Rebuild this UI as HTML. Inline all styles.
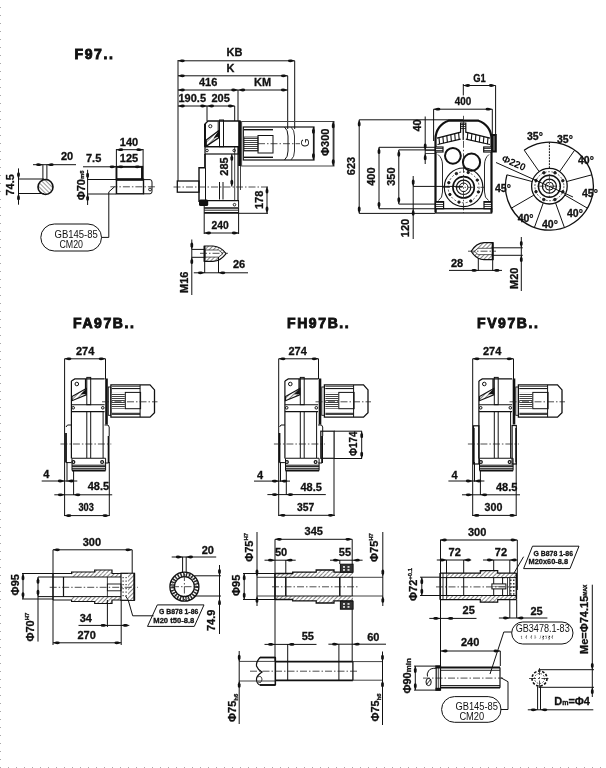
<!DOCTYPE html>
<html><head><meta charset="utf-8"><style>html,body{margin:0;padding:0;background:#fff;width:606px;height:768px;overflow:hidden}svg{display:block;will-change:transform}</style></head>
<body><svg width="606" height="768" viewBox="0 0 606 768">
<defs>
<pattern id="h1" patternUnits="userSpaceOnUse" width="3" height="3" patternTransform="rotate(45)"><rect width="3" height="3" fill="#fff"/><line x1="0" y1="0" x2="0" y2="3" stroke="#222" stroke-width="1.1"/></pattern>
<pattern id="h2" patternUnits="userSpaceOnUse" width="3" height="3" patternTransform="rotate(-45)"><rect width="3" height="3" fill="#fff"/><line x1="0" y1="0" x2="0" y2="3" stroke="#333" stroke-width="1"/></pattern>
<pattern id="fins" patternUnits="userSpaceOnUse" width="4" height="2"><rect width="4" height="2" fill="#fff"/><line x1="0" y1="0.5" x2="4" y2="0.5" stroke="#444" stroke-width="1"/></pattern>
</defs>
<rect width="606" height="768" fill="#fff"/>
<rect x="0" y="7" width="1" height="1" fill="#aaa"/><rect x="0" y="15" width="1" height="1" fill="#aaa"/><rect x="0" y="23" width="1" height="1" fill="#aaa"/><rect x="0" y="31" width="1" height="1" fill="#aaa"/><rect x="0" y="39" width="1" height="1" fill="#aaa"/><rect x="0" y="47" width="1" height="1" fill="#aaa"/><rect x="0" y="55" width="1" height="1" fill="#aaa"/><rect x="0" y="63" width="1" height="1" fill="#aaa"/><rect x="0" y="71" width="1" height="1" fill="#aaa"/><rect x="0" y="79" width="1" height="1" fill="#aaa"/><rect x="0" y="87" width="1" height="1" fill="#aaa"/><rect x="0" y="95" width="1" height="1" fill="#aaa"/><rect x="0" y="103" width="1" height="1" fill="#aaa"/><rect x="0" y="111" width="1" height="1" fill="#aaa"/><rect x="0" y="119" width="1" height="1" fill="#aaa"/><rect x="0" y="127" width="1" height="1" fill="#aaa"/><rect x="0" y="135" width="1" height="1" fill="#aaa"/><rect x="0" y="143" width="1" height="1" fill="#aaa"/><rect x="0" y="151" width="1" height="1" fill="#aaa"/><rect x="0" y="159" width="1" height="1" fill="#aaa"/><rect x="0" y="167" width="1" height="1" fill="#aaa"/><rect x="0" y="175" width="1" height="1" fill="#aaa"/><rect x="0" y="183" width="1" height="1" fill="#aaa"/><rect x="0" y="191" width="1" height="1" fill="#aaa"/><rect x="0" y="199" width="1" height="1" fill="#aaa"/><rect x="0" y="207" width="1" height="1" fill="#aaa"/><rect x="0" y="215" width="1" height="1" fill="#aaa"/><rect x="0" y="223" width="1" height="1" fill="#aaa"/><rect x="0" y="231" width="1" height="1" fill="#aaa"/><rect x="0" y="239" width="1" height="1" fill="#aaa"/><rect x="0" y="247" width="1" height="1" fill="#aaa"/><rect x="0" y="255" width="1" height="1" fill="#aaa"/><rect x="0" y="263" width="1" height="1" fill="#aaa"/><rect x="0" y="271" width="1" height="1" fill="#aaa"/><rect x="0" y="279" width="1" height="1" fill="#aaa"/><rect x="0" y="287" width="1" height="1" fill="#aaa"/><rect x="0" y="295" width="1" height="1" fill="#aaa"/><rect x="0" y="303" width="1" height="1" fill="#aaa"/><rect x="0" y="311" width="1" height="1" fill="#aaa"/><rect x="0" y="319" width="1" height="1" fill="#aaa"/><rect x="0" y="327" width="1" height="1" fill="#aaa"/><rect x="0" y="335" width="1" height="1" fill="#aaa"/><rect x="0" y="343" width="1" height="1" fill="#aaa"/><rect x="0" y="351" width="1" height="1" fill="#aaa"/><rect x="0" y="359" width="1" height="1" fill="#aaa"/><rect x="0" y="367" width="1" height="1" fill="#aaa"/><rect x="0" y="375" width="1" height="1" fill="#aaa"/><rect x="0" y="383" width="1" height="1" fill="#aaa"/><rect x="0" y="391" width="1" height="1" fill="#aaa"/><rect x="0" y="399" width="1" height="1" fill="#aaa"/><rect x="0" y="407" width="1" height="1" fill="#aaa"/><rect x="0" y="415" width="1" height="1" fill="#aaa"/><rect x="0" y="423" width="1" height="1" fill="#aaa"/><rect x="0" y="431" width="1" height="1" fill="#aaa"/><rect x="0" y="439" width="1" height="1" fill="#aaa"/><rect x="0" y="447" width="1" height="1" fill="#aaa"/><rect x="0" y="455" width="1" height="1" fill="#aaa"/><rect x="0" y="463" width="1" height="1" fill="#aaa"/><rect x="0" y="471" width="1" height="1" fill="#aaa"/><rect x="0" y="479" width="1" height="1" fill="#aaa"/><rect x="0" y="487" width="1" height="1" fill="#aaa"/><rect x="0" y="495" width="1" height="1" fill="#aaa"/><rect x="0" y="503" width="1" height="1" fill="#aaa"/><rect x="0" y="511" width="1" height="1" fill="#aaa"/><rect x="0" y="519" width="1" height="1" fill="#aaa"/><rect x="0" y="527" width="1" height="1" fill="#aaa"/><rect x="0" y="535" width="1" height="1" fill="#aaa"/><rect x="0" y="543" width="1" height="1" fill="#aaa"/><rect x="0" y="551" width="1" height="1" fill="#aaa"/><rect x="0" y="559" width="1" height="1" fill="#aaa"/><rect x="0" y="567" width="1" height="1" fill="#aaa"/><rect x="0" y="575" width="1" height="1" fill="#aaa"/><rect x="0" y="583" width="1" height="1" fill="#aaa"/><rect x="0" y="591" width="1" height="1" fill="#aaa"/><rect x="0" y="599" width="1" height="1" fill="#aaa"/><rect x="0" y="607" width="1" height="1" fill="#aaa"/><rect x="0" y="615" width="1" height="1" fill="#aaa"/><rect x="0" y="623" width="1" height="1" fill="#aaa"/><rect x="0" y="631" width="1" height="1" fill="#aaa"/><rect x="0" y="639" width="1" height="1" fill="#aaa"/><rect x="0" y="647" width="1" height="1" fill="#aaa"/><rect x="0" y="655" width="1" height="1" fill="#aaa"/><rect x="0" y="663" width="1" height="1" fill="#aaa"/><rect x="0" y="671" width="1" height="1" fill="#aaa"/><rect x="0" y="679" width="1" height="1" fill="#aaa"/><rect x="0" y="687" width="1" height="1" fill="#aaa"/><rect x="0" y="695" width="1" height="1" fill="#aaa"/><rect x="0" y="703" width="1" height="1" fill="#aaa"/><rect x="0" y="711" width="1" height="1" fill="#aaa"/><rect x="0" y="719" width="1" height="1" fill="#aaa"/><rect x="0" y="727" width="1" height="1" fill="#aaa"/><rect x="0" y="735" width="1" height="1" fill="#aaa"/><rect x="0" y="743" width="1" height="1" fill="#aaa"/><rect x="0" y="751" width="1" height="1" fill="#aaa"/><rect x="0" y="759" width="1" height="1" fill="#aaa"/><rect x="0" y="767" width="1" height="1" fill="#aaa"/><rect x="0" y="767" width="1" height="1" fill="#aaa"/><rect x="8" y="767" width="1" height="1" fill="#aaa"/><rect x="16" y="767" width="1" height="1" fill="#aaa"/><rect x="24" y="767" width="1" height="1" fill="#aaa"/><rect x="32" y="767" width="1" height="1" fill="#aaa"/><rect x="40" y="767" width="1" height="1" fill="#aaa"/><rect x="48" y="767" width="1" height="1" fill="#aaa"/><rect x="56" y="767" width="1" height="1" fill="#aaa"/><rect x="64" y="767" width="1" height="1" fill="#aaa"/><rect x="72" y="767" width="1" height="1" fill="#aaa"/><rect x="80" y="767" width="1" height="1" fill="#aaa"/><rect x="88" y="767" width="1" height="1" fill="#aaa"/><rect x="96" y="767" width="1" height="1" fill="#aaa"/><rect x="104" y="767" width="1" height="1" fill="#aaa"/><rect x="112" y="767" width="1" height="1" fill="#aaa"/><rect x="120" y="767" width="1" height="1" fill="#aaa"/><rect x="128" y="767" width="1" height="1" fill="#aaa"/><rect x="136" y="767" width="1" height="1" fill="#aaa"/><rect x="144" y="767" width="1" height="1" fill="#aaa"/><rect x="152" y="767" width="1" height="1" fill="#aaa"/><rect x="160" y="767" width="1" height="1" fill="#aaa"/><rect x="168" y="767" width="1" height="1" fill="#aaa"/><rect x="176" y="767" width="1" height="1" fill="#aaa"/><rect x="184" y="767" width="1" height="1" fill="#aaa"/><rect x="192" y="767" width="1" height="1" fill="#aaa"/><rect x="200" y="767" width="1" height="1" fill="#aaa"/><rect x="208" y="767" width="1" height="1" fill="#aaa"/><rect x="216" y="767" width="1" height="1" fill="#aaa"/><rect x="224" y="767" width="1" height="1" fill="#aaa"/><rect x="232" y="767" width="1" height="1" fill="#aaa"/><rect x="240" y="767" width="1" height="1" fill="#aaa"/><rect x="248" y="767" width="1" height="1" fill="#aaa"/><rect x="256" y="767" width="1" height="1" fill="#aaa"/><rect x="264" y="767" width="1" height="1" fill="#aaa"/><rect x="272" y="767" width="1" height="1" fill="#aaa"/><rect x="280" y="767" width="1" height="1" fill="#aaa"/><rect x="288" y="767" width="1" height="1" fill="#aaa"/><rect x="296" y="767" width="1" height="1" fill="#aaa"/><rect x="304" y="767" width="1" height="1" fill="#aaa"/><rect x="312" y="767" width="1" height="1" fill="#aaa"/><rect x="320" y="767" width="1" height="1" fill="#aaa"/><rect x="328" y="767" width="1" height="1" fill="#aaa"/><rect x="336" y="767" width="1" height="1" fill="#aaa"/><rect x="344" y="767" width="1" height="1" fill="#aaa"/><rect x="352" y="767" width="1" height="1" fill="#aaa"/><rect x="360" y="767" width="1" height="1" fill="#aaa"/><rect x="368" y="767" width="1" height="1" fill="#aaa"/><rect x="376" y="767" width="1" height="1" fill="#aaa"/><rect x="384" y="767" width="1" height="1" fill="#aaa"/><rect x="392" y="767" width="1" height="1" fill="#aaa"/><rect x="400" y="767" width="1" height="1" fill="#aaa"/><rect x="408" y="767" width="1" height="1" fill="#aaa"/><rect x="416" y="767" width="1" height="1" fill="#aaa"/><rect x="424" y="767" width="1" height="1" fill="#aaa"/><rect x="432" y="767" width="1" height="1" fill="#aaa"/><rect x="440" y="767" width="1" height="1" fill="#aaa"/><rect x="448" y="767" width="1" height="1" fill="#aaa"/><rect x="456" y="767" width="1" height="1" fill="#aaa"/><rect x="464" y="767" width="1" height="1" fill="#aaa"/><rect x="472" y="767" width="1" height="1" fill="#aaa"/><rect x="480" y="767" width="1" height="1" fill="#aaa"/><rect x="488" y="767" width="1" height="1" fill="#aaa"/><rect x="496" y="767" width="1" height="1" fill="#aaa"/><rect x="504" y="767" width="1" height="1" fill="#aaa"/><rect x="512" y="767" width="1" height="1" fill="#aaa"/><rect x="520" y="767" width="1" height="1" fill="#aaa"/><rect x="528" y="767" width="1" height="1" fill="#aaa"/><rect x="536" y="767" width="1" height="1" fill="#aaa"/><rect x="544" y="767" width="1" height="1" fill="#aaa"/><rect x="552" y="767" width="1" height="1" fill="#aaa"/><rect x="560" y="767" width="1" height="1" fill="#aaa"/><rect x="568" y="767" width="1" height="1" fill="#aaa"/><rect x="576" y="767" width="1" height="1" fill="#aaa"/><rect x="584" y="767" width="1" height="1" fill="#aaa"/><rect x="592" y="767" width="1" height="1" fill="#aaa"/><rect x="600" y="767" width="1" height="1" fill="#aaa"/>
<text x="74.5" y="58.6" font-family='"Liberation Sans", sans-serif' font-size="14" font-weight="bold" fill="#111" text-anchor="start" letter-spacing="1.6" stroke="#111" stroke-width="0.9" >F97..</text>
<line x1="33" y1="164.7" x2="76" y2="164.7" stroke="#111" stroke-width="1"/>
<path d="M42.9,164.7 L39.7,163.4 Q36.1,162.9 36.1,164.7 Q36.1,166.5 39.7,166.0 Z" fill="#111" stroke="none"/>
<path d="M46.9,164.7 L50.1,163.4 Q53.7,162.9 53.7,164.7 Q53.7,166.5 50.1,166.0 Z" fill="#111" stroke="none"/>
<line x1="42.9" y1="164.7" x2="42.9" y2="181" stroke="#111" stroke-width="1"/>
<line x1="46.9" y1="164.7" x2="46.9" y2="181" stroke="#111" stroke-width="1"/>
<text x="61" y="160.4" font-family='"Liberation Sans", sans-serif' font-size="11" font-weight="bold" fill="#111" text-anchor="start" stroke="#111" stroke-width="0.3" >20</text>
<circle cx="45.5" cy="187" r="7.5" fill="url(#h2)" stroke="#111" stroke-width="1.6"/>
<line x1="18.5" y1="168.4" x2="18.5" y2="204.7" stroke="#111" stroke-width="1"/>
<path d="M18.5,179 L17.2,175.8 Q16.7,172.2 18.5,172.2 Q20.3,172.2 19.8,175.8 Z" fill="#111" stroke="none"/>
<path d="M18.5,193.5 L17.2,196.7 Q16.7,200.3 18.5,200.3 Q20.3,200.3 19.8,196.7 Z" fill="#111" stroke="none"/>
<line x1="18.5" y1="179" x2="44" y2="179" stroke="#111" stroke-width="1"/>
<line x1="18.5" y1="193.5" x2="44" y2="193.5" stroke="#111" stroke-width="1"/>
<text transform="translate(14,195.5) rotate(-90)" x="0" y="0" font-family='"Liberation Sans", sans-serif' font-size="11" font-weight="bold" fill="#111" stroke="#111" stroke-width="0.3">74.5</text>
<text x="119.8" y="145.9" font-family='"Liberation Sans", sans-serif' font-size="11" font-weight="bold" fill="#111" text-anchor="start" stroke="#111" stroke-width="0.3" >140</text>
<line x1="116.4" y1="149.7" x2="143.1" y2="149.7" stroke="#111" stroke-width="1"/>
<path d="M116.4,149.7 L119.6,148.4 Q123.2,147.9 123.2,149.7 Q123.2,151.5 119.6,151.0 Z" fill="#111" stroke="none"/>
<path d="M143.1,149.7 L139.9,148.4 Q136.3,147.9 136.3,149.7 Q136.3,151.5 139.9,151.0 Z" fill="#111" stroke="none"/>
<text x="119.8" y="162.4" font-family='"Liberation Sans", sans-serif' font-size="11" font-weight="bold" fill="#111" text-anchor="start" stroke="#111" stroke-width="0.3" >125</text>
<text x="86" y="162.4" font-family='"Liberation Sans", sans-serif' font-size="11" font-weight="bold" fill="#111" text-anchor="start" stroke="#111" stroke-width="0.3" >7.5</text>
<line x1="83" y1="166.8" x2="141.6" y2="166.8" stroke="#111" stroke-width="1"/>
<path d="M116.4,166.8 L113.2,165.5 Q109.6,165.0 109.6,166.8 Q109.6,168.6 113.2,168.1 Z" fill="#111" stroke="none"/>
<path d="M116.6,166.8 L119.8,165.5 Q123.4,165.0 123.4,166.8 Q123.4,168.6 119.8,168.1 Z" fill="#111" stroke="none"/>
<path d="M141.6,166.8 L138.4,165.5 Q134.8,165.0 134.8,166.8 Q134.8,168.6 138.4,168.1 Z" fill="#111" stroke="none"/>
<line x1="116.4" y1="149" x2="116.4" y2="194" stroke="#111" stroke-width="1"/>
<line x1="143.1" y1="149" x2="143.1" y2="180" stroke="#111" stroke-width="1"/>
<line x1="141.6" y1="166" x2="141.6" y2="180" stroke="#111" stroke-width="1"/>
<rect x="116.5" y="166.8" width="25.80000000000001" height="12.599999999999994" rx="0" fill="none" stroke="#111" stroke-width="1.8"/>
<rect x="116.5" y="179.4" width="27.0" height="14.400000000000006" rx="0" fill="none" stroke="#111" stroke-width="1.4"/>
<line x1="116.5" y1="179.6" x2="143.5" y2="179.6" stroke="#111" stroke-width="2.2"/>
<path d="M143.5,179.6 L150,179.6 Q152,179.6 152,182 L152,191.5 Q152,193.8 150,193.8 L143.5,193.8" fill="none" stroke="#111" stroke-width="1"/>
<circle cx="150" cy="189.5" r="1.4" fill="none" stroke="#111" stroke-width="0.9"/>
<line x1="110.4" y1="186.8" x2="156.5" y2="186.8" stroke="#222" stroke-width="0.8" stroke-dasharray="7 2 1.5 2"/>
<line x1="87.6" y1="169.8" x2="87.6" y2="205" stroke="#111" stroke-width="1"/>
<path d="M87.6,179.5 L86.3,176.3 Q85.8,172.7 87.6,172.7 Q89.4,172.7 88.9,176.3 Z" fill="#111" stroke="none"/>
<path d="M87.6,194 L86.3,197.2 Q85.8,200.8 87.6,200.8 Q89.4,200.8 88.9,197.2 Z" fill="#111" stroke="none"/>
<line x1="87.6" y1="179.5" x2="116" y2="179.5" stroke="#111" stroke-width="1"/>
<line x1="87.6" y1="194" x2="116" y2="194" stroke="#111" stroke-width="1"/>
<text transform="translate(84.7,200.3) rotate(-90)" x="0" y="0" font-family='"Liberation Sans", sans-serif' font-size="11" font-weight="bold" fill="#111" stroke="#111" stroke-width="0.3">Φ70<tspan font-size="6" dy="-0.5">m6</tspan></text>
<polyline points="114.6,186.7 108.8,191.9 108.8,237.4 101.5,237.4" fill="none" stroke="#111" stroke-width="1"/>
<rect x="40.8" y="224" width="60.7" height="27" rx="13.5" fill="none" stroke="#111" stroke-width="1"/>
<text x="54.5" y="237.5" font-family='"Liberation Sans", sans-serif' font-size="10.5" font-weight="normal" fill="#111" text-anchor="start" textLength="43.3" lengthAdjust="spacingAndGlyphs" >GB145-85</text>
<text x="59.4" y="247.5" font-family='"Liberation Sans", sans-serif' font-size="10.5" font-weight="normal" fill="#111" text-anchor="start" textLength="23.6" lengthAdjust="spacingAndGlyphs" >CM20</text>
<text x="226.6" y="55.9" font-family='"Liberation Sans", sans-serif' font-size="11" font-weight="bold" fill="#111" text-anchor="start" stroke="#111" stroke-width="0.3" >KB</text>
<line x1="178" y1="60.8" x2="294.7" y2="60.8" stroke="#111" stroke-width="1"/>
<path d="M178,60.8 L181.2,59.5 Q184.8,59.0 184.8,60.8 Q184.8,62.6 181.2,62.1 Z" fill="#111" stroke="none"/>
<path d="M294.7,60.8 L291.5,59.5 Q287.9,59.0 287.9,60.8 Q287.9,62.6 291.5,62.1 Z" fill="#111" stroke="none"/>
<text x="226.6" y="71.9" font-family='"Liberation Sans", sans-serif' font-size="11" font-weight="bold" fill="#111" text-anchor="start" stroke="#111" stroke-width="0.3" >K</text>
<line x1="178" y1="75.8" x2="287.7" y2="75.8" stroke="#111" stroke-width="1"/>
<path d="M178,75.8 L181.2,74.5 Q184.8,74.0 184.8,75.8 Q184.8,77.6 181.2,77.1 Z" fill="#111" stroke="none"/>
<path d="M287.7,75.8 L284.5,74.5 Q280.9,74.0 280.9,75.8 Q280.9,77.6 284.5,77.1 Z" fill="#111" stroke="none"/>
<text x="199" y="85.9" font-family='"Liberation Sans", sans-serif' font-size="11" font-weight="bold" fill="#111" text-anchor="start" stroke="#111" stroke-width="0.3" >416</text>
<text x="254" y="85.9" font-family='"Liberation Sans", sans-serif' font-size="11" font-weight="bold" fill="#111" text-anchor="start" stroke="#111" stroke-width="0.3" >KM</text>
<line x1="178" y1="90" x2="287.7" y2="90" stroke="#111" stroke-width="1"/>
<path d="M178,90 L181.2,88.7 Q184.8,88.2 184.8,90 Q184.8,91.8 181.2,91.3 Z" fill="#111" stroke="none"/>
<path d="M238,90 L234.8,88.7 Q231.2,88.2 231.2,90 Q231.2,91.8 234.8,91.3 Z" fill="#111" stroke="none"/>
<path d="M238.4,90 L241.6,88.7 Q245.2,88.2 245.2,90 Q245.2,91.8 241.6,91.3 Z" fill="#111" stroke="none"/>
<path d="M287.7,90 L284.5,88.7 Q280.9,88.2 280.9,90 Q280.9,91.8 284.5,91.3 Z" fill="#111" stroke="none"/>
<text x="178.5" y="101.9" font-family='"Liberation Sans", sans-serif' font-size="11" font-weight="bold" fill="#111" text-anchor="start" stroke="#111" stroke-width="0.3" >190.5</text>
<text x="211.5" y="101.9" font-family='"Liberation Sans", sans-serif' font-size="11" font-weight="bold" fill="#111" text-anchor="start" stroke="#111" stroke-width="0.3" >205</text>
<line x1="178" y1="106" x2="234.7" y2="106" stroke="#111" stroke-width="1"/>
<path d="M178,106 L181.2,104.7 Q184.8,104.2 184.8,106 Q184.8,107.8 181.2,107.3 Z" fill="#111" stroke="none"/>
<path d="M207,106 L203.8,104.7 Q200.2,104.2 200.2,106 Q200.2,107.8 203.8,107.3 Z" fill="#111" stroke="none"/>
<path d="M207.2,106 L210.4,104.7 Q214.0,104.2 214.0,106 Q214.0,107.8 210.4,107.3 Z" fill="#111" stroke="none"/>
<path d="M234.7,106 L231.5,104.7 Q227.9,104.2 227.9,106 Q227.9,107.8 231.5,107.3 Z" fill="#111" stroke="none"/>
<line x1="178" y1="60" x2="178" y2="181" stroke="#111" stroke-width="1"/>
<line x1="207" y1="106" x2="207" y2="121" stroke="#111" stroke-width="1"/>
<line x1="234.7" y1="106" x2="234.7" y2="121" stroke="#111" stroke-width="1"/>
<line x1="238" y1="90" x2="238" y2="121" stroke="#111" stroke-width="1"/>
<line x1="287.7" y1="75.8" x2="287.7" y2="129" stroke="#111" stroke-width="1"/>
<line x1="294.7" y1="60.8" x2="294.7" y2="129" stroke="#111" stroke-width="1"/>
<path d="M205,124 L208,121 L240,121 L240,146.7 L205,146.7 Z" fill="none" stroke="#111" stroke-width="1.3"/>
<rect x="219.5" y="120" width="4.0" height="26.69999999999999" rx="0" fill="none" stroke="#111" stroke-width="1"/>
<circle cx="210.3" cy="126.2" r="1.6" fill="none" stroke="#111" stroke-width="0.9"/>
<polygon points="218.6,130.8 218.6,137.8 206.2,146.2 206.2,140" fill="url(#h1)" stroke="#111" stroke-width="1.3"/>
<polygon points="218.6,130.8 218.6,136.5 213.5,138.2" fill="#111"/>
<line x1="218.2" y1="121.5" x2="218.2" y2="131" stroke="#111" stroke-width="1"/>
<line x1="205" y1="124" x2="205" y2="146.7" stroke="#111" stroke-width="2"/>
<rect x="205" y="146.7" width="33.5" height="7.300000000000011" rx="0" fill="none" stroke="#111" stroke-width="1.2"/>
<circle cx="207" cy="150.5" r="1.3" fill="none" stroke="#111" stroke-width="0.9"/>
<circle cx="234.2" cy="150.5" r="1.3" fill="none" stroke="#111" stroke-width="0.9"/>
<path d="M205,154 L205,167.8 L199,167.8 L199,202" fill="none" stroke="#111" stroke-width="1.4"/>
<line x1="205" y1="154" x2="205" y2="167.8" stroke="#111" stroke-width="1.2"/>
<line x1="205.5" y1="167.8" x2="205.5" y2="200.8" stroke="#111" stroke-width="1"/>
<line x1="219.5" y1="182" x2="219.5" y2="199.5" stroke="#111" stroke-width="1"/>
<line x1="223" y1="182" x2="223" y2="199.5" stroke="#111" stroke-width="1"/>
<line x1="234.7" y1="146.7" x2="234.7" y2="200.8" stroke="#111" stroke-width="0.8"/>
<line x1="238" y1="146.7" x2="238" y2="200.8" stroke="#111" stroke-width="1.2"/>
<rect x="238.2" y="121" width="2.8" height="45" fill="#111"/>
<line x1="240.5" y1="166" x2="240.5" y2="190" stroke="#111" stroke-width="0.8"/>
<line x1="199" y1="200.7" x2="239" y2="200.7" stroke="#111" stroke-width="1.2"/>
<line x1="238.6" y1="200.7" x2="238.6" y2="207.5" stroke="#111" stroke-width="1"/>
<line x1="204.2" y1="208" x2="238.6" y2="208" stroke="#111" stroke-width="1.3"/>
<line x1="204.2" y1="210.2" x2="238.6" y2="210.2" stroke="#111" stroke-width="0.9"/>
<line x1="204.2" y1="212.8" x2="238.6" y2="212.8" stroke="#111" stroke-width="1.8"/>
<line x1="204.2" y1="206" x2="204.2" y2="213" stroke="#111" stroke-width="1"/>
<line x1="238.6" y1="207.5" x2="238.6" y2="213" stroke="#111" stroke-width="1"/>
<rect x="199" y="199.4" width="9.2" height="6.6" rx="1.5" fill="#111"/>
<circle cx="234.5" cy="204.7" r="1.3" fill="none" stroke="#111" stroke-width="0.9"/>
<rect x="177.3" y="181" width="21.69999999999999" height="11.199999999999989" rx="0" fill="none" stroke="#111" stroke-width="1.3"/>
<line x1="173.5" y1="187" x2="269" y2="187" stroke="#222" stroke-width="0.8" stroke-dasharray="7 2 1.5 2"/>
<line x1="231.8" y1="154" x2="231.8" y2="186.5" stroke="#111" stroke-width="1"/>
<path d="M231.8,154 L230.5,157.2 Q230.0,160.8 231.8,160.8 Q233.6,160.8 233.1,157.2 Z" fill="#111" stroke="none"/>
<path d="M231.8,186.5 L230.5,183.3 Q230.0,179.7 231.8,179.7 Q233.6,179.7 233.1,183.3 Z" fill="#111" stroke="none"/>
<text transform="translate(228,175.7) rotate(-90)" x="0" y="0" font-family='"Liberation Sans", sans-serif' font-size="11" font-weight="bold" fill="#111" stroke="#111" stroke-width="0.3">285</text>
<line x1="267" y1="186.8" x2="267" y2="213.3" stroke="#111" stroke-width="1"/>
<path d="M267,186.8 L265.7,190.0 Q265.2,193.6 267,193.6 Q268.8,193.6 268.3,190.0 Z" fill="#111" stroke="none"/>
<path d="M267,213.3 L265.7,210.1 Q265.2,206.5 267,206.5 Q268.8,206.5 268.3,210.1 Z" fill="#111" stroke="none"/>
<line x1="238.6" y1="213.3" x2="268" y2="213.3" stroke="#111" stroke-width="1"/>
<text transform="translate(263,209) rotate(-90)" x="0" y="0" font-family='"Liberation Sans", sans-serif' font-size="11" font-weight="bold" fill="#111" stroke="#111" stroke-width="0.3">178</text>
<line x1="204.2" y1="213" x2="204.2" y2="234" stroke="#111" stroke-width="1"/>
<line x1="238.6" y1="213" x2="238.6" y2="234" stroke="#111" stroke-width="1"/>
<line x1="204.2" y1="233" x2="238.6" y2="233" stroke="#111" stroke-width="1"/>
<path d="M204.2,233 L207.4,231.7 Q211.0,231.2 211.0,233 Q211.0,234.8 207.4,234.3 Z" fill="#111" stroke="none"/>
<path d="M238.6,233 L235.4,231.7 Q231.8,231.2 231.8,233 Q231.8,234.8 235.4,234.3 Z" fill="#111" stroke="none"/>
<text x="211.5" y="229.1" font-family='"Liberation Sans", sans-serif' font-size="11" font-weight="bold" fill="#111" text-anchor="start" textLength="17.2" lengthAdjust="spacingAndGlyphs" stroke="#111" stroke-width="0.3" >240</text>
<rect x="241.6" y="121.5" width="92.4" height="44.5" rx="0" fill="none" stroke="#444" stroke-width="1"/>
<rect x="243.3" y="127" width="70.69999999999999" height="33" rx="0" fill="none" stroke="#111" stroke-width="1.2"/>
<line x1="244" y1="129.7" x2="273" y2="129.7" stroke="#111" stroke-width="1.4"/>
<line x1="244" y1="157.3" x2="273" y2="157.3" stroke="#111" stroke-width="1.4"/>
<rect x="244" y="137" width="14" height="14" fill="url(#fins)" stroke="#222" stroke-width="0.8"/>
<rect x="258" y="135.5" width="15" height="17.5" rx="0" fill="none" stroke="#111" stroke-width="1"/>
<path d="M284.5,127 Q288,130 288,136 L288,151 Q288,157 284.5,160" fill="none" stroke="#111" stroke-width="1"/>
<path d="M291,127 Q294.5,130 294.5,136 L294.5,151 Q294.5,157 291,160" fill="none" stroke="#333" stroke-width="1"/>
<line x1="258" y1="143.7" x2="300" y2="143.7" stroke="#222" stroke-width="0.8" stroke-dasharray="7 2 1.5 2"/>
<line x1="313.4" y1="127" x2="313.4" y2="160" stroke="#111" stroke-width="1"/>
<path d="M313.4,127 L312.1,130.2 Q311.6,133.8 313.4,133.8 Q315.2,133.8 314.7,130.2 Z" fill="#111" stroke="none"/>
<path d="M313.4,160 L312.1,156.8 Q311.6,153.2 313.4,153.2 Q315.2,153.2 314.7,156.8 Z" fill="#111" stroke="none"/>
<text transform="translate(309.3,147) rotate(-90)" x="0" y="0" font-family='"Liberation Sans", sans-serif' font-size="11" font-weight="normal" fill="#111">G</text>
<line x1="333.2" y1="121.5" x2="333.2" y2="166" stroke="#111" stroke-width="1"/>
<path d="M333.2,121.5 L331.9,124.7 Q331.4,128.3 333.2,128.3 Q335.0,128.3 334.5,124.7 Z" fill="#111" stroke="none"/>
<path d="M333.2,166 L331.9,162.8 Q331.4,159.2 333.2,159.2 Q335.0,159.2 334.5,162.8 Z" fill="#111" stroke="none"/>
<text transform="translate(329,156) rotate(-90)" x="0" y="0" font-family='"Liberation Sans", sans-serif' font-size="11" font-weight="bold" fill="#111" stroke="#111" stroke-width="0.3">Φ300</text>
<path d="M204.3,246 L213,246 Q221,246.5 226,253.6 Q221,260.8 213,261.4 L204.3,261.4 Z" fill="url(#h1)" stroke="#111" stroke-width="1.2"/>
<path d="M205,250 L218.5,250 L223,253.6 L218.5,257.1 L205,257.1 Z" fill="#fff" stroke="#333" stroke-width="0.8"/>
<line x1="204.6" y1="246" x2="204.6" y2="261.4" stroke="#111" stroke-width="1.8"/>
<line x1="200" y1="253.3" x2="228" y2="253.3" stroke="#222" stroke-width="0.8" stroke-dasharray="7 2 1.5 2"/>
<line x1="191.8" y1="239.5" x2="191.8" y2="295" stroke="#111" stroke-width="1"/>
<path d="M191.8,249.4 L190.5,246.2 Q190.0,242.6 191.8,242.6 Q193.6,242.6 193.1,246.2 Z" fill="#111" stroke="none"/>
<path d="M191.8,257.3 L190.5,260.5 Q190.0,264.1 191.8,264.1 Q193.6,264.1 193.1,260.5 Z" fill="#111" stroke="none"/>
<line x1="191.8" y1="249.4" x2="205" y2="249.4" stroke="#111" stroke-width="1"/>
<line x1="191.8" y1="257.3" x2="205" y2="257.3" stroke="#111" stroke-width="1"/>
<text transform="translate(188,293) rotate(-90)" x="0" y="0" font-family='"Liberation Sans", sans-serif' font-size="11" font-weight="bold" fill="#111" stroke="#111" stroke-width="0.3">M16</text>
<line x1="193.8" y1="272.8" x2="248" y2="272.8" stroke="#111" stroke-width="1"/>
<path d="M204.7,272.8 L201.5,271.5 Q197.9,271.0 197.9,272.8 Q197.9,274.6 201.5,274.1 Z" fill="#111" stroke="none"/>
<path d="M218.5,272.8 L221.7,271.5 Q225.3,271.0 225.3,272.8 Q225.3,274.6 221.7,274.1 Z" fill="#111" stroke="none"/>
<line x1="204.7" y1="261" x2="204.7" y2="273" stroke="#111" stroke-width="1"/>
<line x1="218.5" y1="257" x2="218.5" y2="273" stroke="#111" stroke-width="1"/>
<text x="233" y="267.9" font-family='"Liberation Sans", sans-serif' font-size="11" font-weight="bold" fill="#111" text-anchor="start" stroke="#111" stroke-width="0.3" >26</text>
<text x="473.2" y="82.1" font-family='"Liberation Sans", sans-serif' font-size="11" font-weight="bold" fill="#111" text-anchor="start" textLength="12.5" lengthAdjust="spacingAndGlyphs" stroke="#111" stroke-width="0.3" >G1</text>
<line x1="463.3" y1="85.5" x2="495.6" y2="85.5" stroke="#111" stroke-width="1"/>
<path d="M463.3,85.5 L466.5,84.2 Q470.1,83.7 470.1,85.5 Q470.1,87.3 466.5,86.8 Z" fill="#111" stroke="none"/>
<path d="M495.6,85.5 L492.4,84.2 Q488.8,83.7 488.8,85.5 Q488.8,87.3 492.4,86.8 Z" fill="#111" stroke="none"/>
<text x="454.7" y="105.2" font-family='"Liberation Sans", sans-serif' font-size="11" font-weight="bold" fill="#111" text-anchor="start" textLength="16.5" lengthAdjust="spacingAndGlyphs" stroke="#111" stroke-width="0.3" >400</text>
<line x1="433.6" y1="109.2" x2="492.3" y2="109.2" stroke="#111" stroke-width="1"/>
<path d="M433.6,109.2 L436.8,107.9 Q440.4,107.4 440.4,109.2 Q440.4,111.0 436.8,110.5 Z" fill="#111" stroke="none"/>
<path d="M492.3,109.2 L489.1,107.9 Q485.5,107.4 485.5,109.2 Q485.5,111.0 489.1,110.5 Z" fill="#111" stroke="none"/>
<line x1="433.6" y1="109.2" x2="433.6" y2="141" stroke="#111" stroke-width="1"/>
<line x1="495.6" y1="85.5" x2="495.6" y2="135" stroke="#111" stroke-width="1"/>
<line x1="492.3" y1="109.2" x2="492.3" y2="135" stroke="#111" stroke-width="1"/>
<line x1="463.3" y1="84" x2="463.3" y2="95.4" stroke="#111" stroke-width="1"/>
<line x1="359.2" y1="119.8" x2="359.2" y2="213.4" stroke="#111" stroke-width="1"/>
<path d="M359.2,119.8 L357.9,123.0 Q357.4,126.6 359.2,126.6 Q361.0,126.6 360.5,123.0 Z" fill="#111" stroke="none"/>
<path d="M359.2,213.4 L357.9,210.2 Q357.4,206.6 359.2,206.6 Q361.0,206.6 360.5,210.2 Z" fill="#111" stroke="none"/>
<line x1="359.2" y1="119.8" x2="463" y2="119.8" stroke="#111" stroke-width="1"/>
<line x1="359.2" y1="213.4" x2="435" y2="213.4" stroke="#111" stroke-width="1"/>
<text transform="translate(355.2,175.2) rotate(-90)" x="0" y="0" font-family='"Liberation Sans", sans-serif' font-size="11" font-weight="bold" fill="#111" stroke="#111" stroke-width="0.3">623</text>
<line x1="379" y1="147.3" x2="379" y2="208.75" stroke="#111" stroke-width="1"/>
<path d="M379,147.3 L377.7,150.5 Q377.2,154.1 379,154.1 Q380.8,154.1 380.3,150.5 Z" fill="#111" stroke="none"/>
<path d="M379,208.75 L377.7,205.6 Q377.2,201.9 379,201.9 Q380.8,201.9 380.3,205.6 Z" fill="#111" stroke="none"/>
<line x1="379" y1="147.3" x2="435" y2="147.3" stroke="#111" stroke-width="1"/>
<line x1="379" y1="208.75" x2="435" y2="208.75" stroke="#111" stroke-width="1"/>
<text transform="translate(375,185.8) rotate(-90)" x="0" y="0" font-family='"Liberation Sans", sans-serif' font-size="11" font-weight="bold" fill="#111" stroke="#111" stroke-width="0.3">400</text>
<line x1="398.8" y1="149.9" x2="398.8" y2="204.1" stroke="#111" stroke-width="1"/>
<path d="M398.8,149.9 L397.5,153.1 Q397.0,156.7 398.8,156.7 Q400.6,156.7 400.1,153.1 Z" fill="#111" stroke="none"/>
<path d="M398.8,204.1 L397.5,200.9 Q397.0,197.3 398.8,197.3 Q400.6,197.3 400.1,200.9 Z" fill="#111" stroke="none"/>
<line x1="398.8" y1="149.9" x2="435" y2="149.9" stroke="#111" stroke-width="1"/>
<line x1="398.8" y1="204.1" x2="435" y2="204.1" stroke="#111" stroke-width="1"/>
<text transform="translate(394.8,185.8) rotate(-90)" x="0" y="0" font-family='"Liberation Sans", sans-serif' font-size="11" font-weight="bold" fill="#111" stroke="#111" stroke-width="0.3">350</text>
<line x1="425.2" y1="116.5" x2="425.2" y2="164" stroke="#111" stroke-width="1"/>
<path d="M425.2,150.4 L423.9,147.2 Q423.4,143.6 425.2,143.6 Q427.0,143.6 426.5,147.2 Z" fill="#111" stroke="none"/>
<path d="M425.2,153.5 L423.9,156.7 Q423.4,160.3 425.2,160.3 Q427.0,160.3 426.5,156.7 Z" fill="#111" stroke="none"/>
<line x1="425.2" y1="150.4" x2="435" y2="150.4" stroke="#111" stroke-width="0.8"/>
<line x1="425.2" y1="153.5" x2="435" y2="153.5" stroke="#111" stroke-width="0.8"/>
<text transform="translate(421.3,131.5) rotate(-90)" x="0" y="0" font-family='"Liberation Sans", sans-serif' font-size="11" font-weight="bold" fill="#111" stroke="#111" stroke-width="0.3">40</text>
<line x1="413.2" y1="176" x2="413.2" y2="239" stroke="#111" stroke-width="1"/>
<path d="M413.2,186.4 L411.9,183.2 Q411.4,179.6 413.2,179.6 Q415.0,179.6 414.5,183.2 Z" fill="#111" stroke="none"/>
<path d="M413.2,208.75 L411.9,211.9 Q411.4,215.6 413.2,215.6 Q415.0,215.6 414.5,211.9 Z" fill="#111" stroke="none"/>
<line x1="413.2" y1="186.4" x2="463" y2="186.4" stroke="#111" stroke-width="1"/>
<text transform="translate(409.3,237.2) rotate(-90)" x="0" y="0" font-family='"Liberation Sans", sans-serif' font-size="11" font-weight="bold" fill="#111" stroke="#111" stroke-width="0.3">120</text>
<path d="M435.5,212.5 L435.5,139 C435.5,130 441,123 448.5,120.7 L478.5,120.7 C486,123 491.5,130 491.5,139 L491.5,212.5" fill="none" stroke="#111" stroke-width="2.2"/>
<polyline points="437,138.2 460.6,132.2 460.6,123 465.8,123 465.8,132.2 490,138.2" fill="none" stroke="#111" stroke-width="1.2"/>
<polyline points="437.5,144.5 460.6,139.2" fill="none" stroke="#111" stroke-width="1.2"/>
<polyline points="465.8,139.2 490,144.5" fill="none" stroke="#111" stroke-width="1.2"/>
<line x1="439.0" y1="137.7" x2="439.6" y2="144.1" stroke="#111" stroke-width="1.1"/>
<line x1="488.0" y1="137.7" x2="487.4" y2="144.1" stroke="#111" stroke-width="1.1"/>
<line x1="442.9" y1="136.7" x2="443.5" y2="143.2" stroke="#111" stroke-width="1.1"/>
<line x1="483.9" y1="136.7" x2="483.3" y2="143.2" stroke="#111" stroke-width="1.1"/>
<line x1="446.8" y1="135.7" x2="447.4" y2="142.3" stroke="#111" stroke-width="1.1"/>
<line x1="479.9" y1="135.7" x2="479.3" y2="142.3" stroke="#111" stroke-width="1.1"/>
<line x1="450.8" y1="134.7" x2="451.4" y2="141.4" stroke="#111" stroke-width="1.1"/>
<line x1="475.9" y1="134.7" x2="475.3" y2="141.4" stroke="#111" stroke-width="1.1"/>
<line x1="454.7" y1="133.7" x2="455.3" y2="140.5" stroke="#111" stroke-width="1.1"/>
<line x1="471.9" y1="133.7" x2="471.2" y2="140.5" stroke="#111" stroke-width="1.1"/>
<line x1="458.6" y1="132.7" x2="459.2" y2="139.6" stroke="#111" stroke-width="1.1"/>
<line x1="467.8" y1="132.7" x2="467.2" y2="139.6" stroke="#111" stroke-width="1.1"/>
<line x1="460.6" y1="124.5" x2="465.8" y2="124.5" stroke="#111" stroke-width="0.8"/>
<line x1="460.6" y1="126.5" x2="465.8" y2="126.5" stroke="#111" stroke-width="0.8"/>
<line x1="460.6" y1="128.5" x2="465.8" y2="128.5" stroke="#111" stroke-width="0.8"/>
<line x1="463.2" y1="123" x2="463.2" y2="140" stroke="#111" stroke-width="1.2"/>
<rect x="435.5" y="147" width="7.5" height="5" rx="0" fill="url(#fins)" stroke="#111" stroke-width="1.2"/>
<rect x="483.7" y="147" width="7.800000000000011" height="5" rx="0" fill="url(#fins)" stroke="#111" stroke-width="1.2"/>
<rect x="492.2" y="135" width="3.6000000000000227" height="16.5" rx="0" fill="#666" stroke="#111" stroke-width="2"/>
<circle cx="452.9" cy="155.8" r="7.9" fill="none" stroke="#111" stroke-width="2"/>
<circle cx="471.5" cy="162.2" r="8.6" fill="none" stroke="#111" stroke-width="2"/>
<circle cx="463.6" cy="187.3" r="19.3" fill="none" stroke="#111" stroke-width="1.2"/>
<circle cx="463.6" cy="187.3" r="15.5" fill="none" stroke="#111" stroke-width="0.7" stroke-dasharray="2 2"/>
<circle cx="463.6" cy="187.3" r="10.7" fill="none" stroke="#111" stroke-width="1.6"/>
<circle cx="463.6" cy="187.3" r="7.2" fill="none" stroke="#111" stroke-width="1.2"/>
<circle cx="463.6" cy="187.3" r="4.3" fill="none" stroke="#111" stroke-width="1"/>
<circle cx="478.4" cy="191.9" r="1.2" fill="#222" stroke="#111" stroke-width="0.9"/>
<circle cx="470.8" cy="201.0" r="1.2" fill="#222" stroke="#111" stroke-width="0.9"/>
<circle cx="459.0" cy="202.1" r="1.2" fill="#222" stroke="#111" stroke-width="0.9"/>
<circle cx="449.9" cy="194.5" r="1.2" fill="#222" stroke="#111" stroke-width="0.9"/>
<circle cx="448.8" cy="182.7" r="1.2" fill="#222" stroke="#111" stroke-width="0.9"/>
<circle cx="456.4" cy="173.6" r="1.2" fill="#222" stroke="#111" stroke-width="0.9"/>
<circle cx="468.2" cy="172.5" r="1.2" fill="#222" stroke="#111" stroke-width="0.9"/>
<circle cx="477.3" cy="180.1" r="1.2" fill="#222" stroke="#111" stroke-width="0.9"/>
<line x1="443" y1="187.3" x2="484" y2="187.3" stroke="#222" stroke-width="0.8" stroke-dasharray="7 2 1.5 2"/>
<line x1="463.5" y1="115.8" x2="463.5" y2="213" stroke="#222" stroke-width="0.8" stroke-dasharray="7 2 1.5 2"/>
<path d="M438,154.5 Q442.5,158 442.5,165 L442.5,192 Q442.5,198 438.5,200.5" fill="none" stroke="#111" stroke-width="0.9"/>
<path d="M489,154.5 Q484.5,158 484.5,165 L484.5,192 Q484.5,198 488.5,200.5" fill="none" stroke="#111" stroke-width="0.9"/>
<rect x="435.7" y="208.7" width="55.900000000000034" height="4.300000000000011" rx="0" fill="none" stroke="#111" stroke-width="1.3"/>
<rect x="435.5" y="201.6" width="8.100000000000023" height="7.099999999999994" rx="0" fill="url(#fins)" stroke="#111" stroke-width="1.2"/>
<rect x="484" y="201.6" width="7.5" height="7.099999999999994" rx="0" fill="url(#fins)" stroke="#111" stroke-width="1.2"/>
<path d="M493,242.6 L484,242.6 Q476,243.2 471.2,251.2 Q476,259.2 484,259.7 L493,259.7 Z" fill="url(#h1)" stroke="#111" stroke-width="1.2"/>
<path d="M492.5,248.3 L478,248.3 L474.5,251.2 L478,254.6 L492.5,254.6 Z" fill="#fff" stroke="#333" stroke-width="0.8"/>
<line x1="468" y1="251.2" x2="496" y2="251.2" stroke="#222" stroke-width="0.8" stroke-dasharray="7 2 1.5 2"/>
<line x1="492.6" y1="242.6" x2="492.6" y2="259.7" stroke="#111" stroke-width="1.8"/>
<line x1="492.8" y1="247.8" x2="522.8" y2="247.8" stroke="#111" stroke-width="1"/>
<line x1="492.8" y1="255.3" x2="522.8" y2="255.3" stroke="#111" stroke-width="1"/>
<line x1="521.3" y1="237" x2="521.3" y2="291" stroke="#111" stroke-width="1"/>
<path d="M521.3,247.8 L520.0,244.6 Q519.5,241.0 521.3,241.0 Q523.1,241.0 522.6,244.6 Z" fill="#111" stroke="none"/>
<path d="M521.3,255.3 L520.0,258.5 Q519.5,262.1 521.3,262.1 Q523.1,262.1 522.6,258.5 Z" fill="#111" stroke="none"/>
<text transform="translate(518,289) rotate(-90)" x="0" y="0" font-family='"Liberation Sans", sans-serif' font-size="11" font-weight="bold" fill="#111" stroke="#111" stroke-width="0.3">M20</text>
<line x1="449" y1="270.4" x2="502" y2="270.4" stroke="#111" stroke-width="1"/>
<path d="M478.3,270.4 L475.1,269.1 Q471.5,268.6 471.5,270.4 Q471.5,272.2 475.1,271.7 Z" fill="#111" stroke="none"/>
<path d="M492.7,270.4 L495.9,269.1 Q499.5,268.6 499.5,270.4 Q499.5,272.2 495.9,271.7 Z" fill="#111" stroke="none"/>
<line x1="478.3" y1="258" x2="478.3" y2="271" stroke="#111" stroke-width="1"/>
<line x1="492.7" y1="259" x2="492.7" y2="271" stroke="#111" stroke-width="1"/>
<text x="451" y="266.9" font-family='"Liberation Sans", sans-serif' font-size="11" font-weight="bold" fill="#111" text-anchor="start" stroke="#111" stroke-width="0.3" >28</text>
<path d="M524.16,150.16 A44 44 0 1 1 506.9,174.8" fill="none" stroke="#111" stroke-width="1.3"/>
<circle cx="549.4" cy="186.2" r="17.8" fill="none" stroke="#111" stroke-width="1.3"/>
<circle cx="549.4" cy="186.2" r="14.5" fill="none" stroke="#111" stroke-width="0.7" stroke-dasharray="2 1.5"/>
<circle cx="549.4" cy="186.2" r="11" fill="none" stroke="#111" stroke-width="1.4"/>
<circle cx="549.4" cy="186.2" r="7" fill="none" stroke="#111" stroke-width="1.3"/>
<circle cx="549.4" cy="186.2" r="4" fill="none" stroke="#111" stroke-width="1"/>
<line x1="537.4" y1="186.2" x2="561.4" y2="186.2" stroke="#222" stroke-width="0.8" stroke-dasharray="7 2 1.5 2"/>
<line x1="549.4" y1="174.2" x2="549.4" y2="198.2" stroke="#222" stroke-width="0.8" stroke-dasharray="7 2 1.5 2"/>
<circle cx="562.8" cy="191.8" r="1.3" fill="#222" stroke="#111" stroke-width="0.8"/>
<circle cx="554.9" cy="199.6" r="1.3" fill="#222" stroke="#111" stroke-width="0.8"/>
<circle cx="543.8" cy="199.6" r="1.3" fill="#222" stroke="#111" stroke-width="0.8"/>
<circle cx="536.0" cy="191.7" r="1.3" fill="#222" stroke="#111" stroke-width="0.8"/>
<circle cx="536.0" cy="180.6" r="1.3" fill="#222" stroke="#111" stroke-width="0.8"/>
<circle cx="543.9" cy="172.8" r="1.3" fill="#222" stroke="#111" stroke-width="0.8"/>
<circle cx="555.0" cy="172.8" r="1.3" fill="#222" stroke="#111" stroke-width="0.8"/>
<circle cx="562.8" cy="180.7" r="1.3" fill="#222" stroke="#111" stroke-width="0.8"/>
<line x1="559.7" y1="171.5" x2="574.6" y2="150.2" stroke="#111" stroke-width="1"/>
<line x1="566.8" y1="181.5" x2="591.9" y2="174.8" stroke="#111" stroke-width="1"/>
<line x1="565.0" y1="195.2" x2="587.5" y2="208.2" stroke="#111" stroke-width="1"/>
<line x1="555.6" y1="203.1" x2="564.4" y2="227.5" stroke="#111" stroke-width="1"/>
<line x1="543.2" y1="203.1" x2="534.4" y2="227.5" stroke="#111" stroke-width="1"/>
<line x1="533.8" y1="195.2" x2="511.3" y2="208.2" stroke="#111" stroke-width="1"/>
<line x1="532.0" y1="181.5" x2="506.9" y2="174.8" stroke="#111" stroke-width="1"/>
<line x1="539.1" y1="171.5" x2="524.2" y2="150.2" stroke="#111" stroke-width="1"/>
<line x1="549.4" y1="168.2" x2="549.4" y2="142.2" stroke="#111" stroke-width="1" stroke-dasharray="2 1"/>
<line x1="496" y1="162.5" x2="573" y2="197" stroke="#111" stroke-width="1"/>
<text transform="translate(501,161) rotate(24)" font-family='"Liberation Sans", sans-serif' font-size="10" font-weight="bold" fill="#111">Φ220</text>
<text x="527" y="140.0" font-family='"Liberation Sans", sans-serif' font-size="10.5" font-weight="bold" fill="#111" text-anchor="start" stroke="#111" stroke-width="0.3" >35°</text>
<text x="557" y="143.0" font-family='"Liberation Sans", sans-serif' font-size="10.5" font-weight="bold" fill="#111" text-anchor="start" stroke="#111" stroke-width="0.3" >35°</text>
<text x="578" y="164.0" font-family='"Liberation Sans", sans-serif' font-size="10.5" font-weight="bold" fill="#111" text-anchor="start" stroke="#111" stroke-width="0.3" >40°</text>
<text x="582" y="197.0" font-family='"Liberation Sans", sans-serif' font-size="10.5" font-weight="bold" fill="#111" text-anchor="start" stroke="#111" stroke-width="0.3" >45°</text>
<text x="567" y="217.0" font-family='"Liberation Sans", sans-serif' font-size="10.5" font-weight="bold" fill="#111" text-anchor="start" stroke="#111" stroke-width="0.3" >40°</text>
<text x="542" y="227.5" font-family='"Liberation Sans", sans-serif' font-size="10.5" font-weight="bold" fill="#111" text-anchor="start" stroke="#111" stroke-width="0.3" >40°</text>
<text x="517.7" y="221.5" font-family='"Liberation Sans", sans-serif' font-size="10.5" font-weight="bold" fill="#111" text-anchor="start" stroke="#111" stroke-width="0.3" >40°</text>
<text x="495" y="191.8" font-family='"Liberation Sans", sans-serif' font-size="10.5" font-weight="bold" fill="#111" text-anchor="start" stroke="#111" stroke-width="0.3" >45°</text>
<text x="73" y="327.8" font-family='"Liberation Sans", sans-serif' font-size="14" font-weight="bold" fill="#111" text-anchor="start" letter-spacing="1.6" stroke="#111" stroke-width="0.9" >FA97B..</text>
<line x1="64.6" y1="358.8" x2="105.5" y2="358.8" stroke="#111" stroke-width="1"/>
<path d="M64.6,358.8 L67.8,357.5 Q71.4,357.0 71.4,358.8 Q71.4,360.6 67.8,360.1 Z" fill="#111" stroke="none"/>
<path d="M105.5,358.8 L102.3,357.5 Q98.7,357.0 98.7,358.8 Q98.7,360.6 102.3,360.1 Z" fill="#111" stroke="none"/>
<text x="76" y="354.9" font-family='"Liberation Sans", sans-serif' font-size="11" font-weight="bold" fill="#111" text-anchor="start" stroke="#111" stroke-width="0.3" >274</text>
<line x1="64.6" y1="358.7" x2="64.6" y2="516" stroke="#111" stroke-width="1"/>
<line x1="105.5" y1="358.8" x2="105.5" y2="379" stroke="#111" stroke-width="1"/>
<path d="M71.4,381 L74.8,378.9 L104.6,378.9" fill="none" stroke="#111" stroke-width="1.2"/>
<line x1="71.4" y1="381" x2="71.4" y2="458.6" stroke="#111" stroke-width="1.2"/>
<rect x="86.8" y="377.4" width="3.9000000000000057" height="27.30000000000001" rx="0" fill="none" stroke="#111" stroke-width="1"/>
<line x1="86.8" y1="411.6" x2="86.8" y2="458" stroke="#111" stroke-width="1"/>
<line x1="90.7" y1="411.6" x2="90.7" y2="458" stroke="#111" stroke-width="1"/>
<circle cx="76.8" cy="384" r="1.8" fill="none" stroke="#111" stroke-width="1"/>
<polygon points="86.3,388.5 86.3,394.8 72,400.7 72,396.5" fill="url(#h1)" stroke="#111" stroke-width="1.2"/>
<polygon points="86.3,388.5 86.3,394 80.5,394.5" fill="#111"/>
<line x1="85.6" y1="379" x2="85.6" y2="389" stroke="#111" stroke-width="1.4"/>
<line x1="71.4" y1="404.7" x2="104.6" y2="404.7" stroke="#111" stroke-width="1.1"/>
<line x1="71.4" y1="411.6" x2="104.6" y2="411.6" stroke="#111" stroke-width="1.1"/>
<circle cx="73.2" cy="407.8" r="1.3" fill="none" stroke="#111" stroke-width="1"/>
<circle cx="102.8" cy="407.8" r="1.3" fill="none" stroke="#111" stroke-width="1"/>
<line x1="103.1" y1="411.6" x2="103.1" y2="458" stroke="#111" stroke-width="1"/>
<rect x="105.2" y="378.5" width="2.6" height="46" fill="#111"/>
<polyline points="71.4,425 67.5,425 66,427" fill="none" stroke="#111" stroke-width="1"/>
<line x1="66" y1="433" x2="66" y2="462.6" stroke="#111" stroke-width="1.8"/>
<line x1="66" y1="462.6" x2="71.4" y2="462.6" stroke="#111" stroke-width="1"/>
<polyline points="104.6,425 108,425 109.2,427 109.2,436" fill="none" stroke="#111" stroke-width="1"/>
<line x1="108.6" y1="436" x2="108.6" y2="463" stroke="#111" stroke-width="1.8"/>
<line x1="104.6" y1="463" x2="108.6" y2="463" stroke="#111" stroke-width="1"/>
<line x1="72" y1="458.3" x2="105.6" y2="458.3" stroke="#111" stroke-width="1.1"/>
<circle cx="73.4" cy="462.1" r="1.4" fill="none" stroke="#111" stroke-width="1.2"/>
<circle cx="102.1" cy="462.1" r="1.4" fill="none" stroke="#111" stroke-width="1.2"/>
<rect x="72" y="465" width="33.6" height="5" fill="url(#fins)"/>
<line x1="72" y1="465.2" x2="105.6" y2="465.2" stroke="#111" stroke-width="1"/>
<line x1="72" y1="466.8" x2="105.6" y2="466.8" stroke="#111" stroke-width="0.8"/>
<line x1="72" y1="470.5" x2="105.6" y2="470.5" stroke="#111" stroke-width="2.2"/>
<line x1="72" y1="458.3" x2="72" y2="470.5" stroke="#111" stroke-width="1"/>
<line x1="105.6" y1="458.3" x2="105.6" y2="470.5" stroke="#111" stroke-width="1"/>
<line x1="60.4" y1="444" x2="111.3" y2="444" stroke="#222" stroke-width="0.8" stroke-dasharray="7 2 1.5 2"/>
<rect x="108.3" y="387" width="2.6000000000000085" height="28.30000000000001" rx="0" fill="none" stroke="#111" stroke-width="0.9"/>
<path d="M110.9,384.9 L150,384.9 L154.5,389.9 L154.5,412.7 L150,417.1 L110.9,417.1 Z" fill="none" stroke="#111" stroke-width="1.3"/>
<rect x="111.9" y="386.2" width="28.2" height="2.4" fill="url(#fins)"/>
<rect x="111.9" y="413.4" width="28.2" height="2.4" fill="url(#fins)"/>
<line x1="111.9" y1="388.6" x2="140.1" y2="388.6" stroke="#111" stroke-width="1"/>
<line x1="111.9" y1="413.3" x2="140.1" y2="413.3" stroke="#111" stroke-width="1"/>
<line x1="140.1" y1="384.9" x2="140.1" y2="417.1" stroke="#111" stroke-width="1"/>
<rect x="111.9" y="392.9" width="12.9" height="15.8" fill="url(#fins)"/>
<rect x="125.3" y="392.4" width="15.299999999999997" height="16.30000000000001" rx="0" fill="none" stroke="#111" stroke-width="1"/>
<line x1="102" y1="401.8" x2="157.5" y2="401.8" stroke="#222" stroke-width="0.8" stroke-dasharray="7 2 1.5 2"/>
<line x1="67" y1="462" x2="67" y2="481.7" stroke="#111" stroke-width="1"/>
<line x1="73.6" y1="470" x2="73.6" y2="495" stroke="#111" stroke-width="1"/>
<line x1="109.3" y1="462" x2="109.3" y2="516" stroke="#111" stroke-width="1"/>
<line x1="41.7" y1="481" x2="77.3" y2="481" stroke="#111" stroke-width="1"/>
<path d="M64.6,481 L61.4,479.7 Q57.8,479.2 57.8,481 Q57.8,482.8 61.4,482.3 Z" fill="#111" stroke="none"/>
<path d="M67,481 L70.2,479.7 Q73.8,479.2 73.8,481 Q73.8,482.8 70.2,482.3 Z" fill="#111" stroke="none"/>
<text x="43.2" y="477.9" font-family='"Liberation Sans", sans-serif' font-size="11" font-weight="bold" fill="#111" text-anchor="start" stroke="#111" stroke-width="0.3" >4</text>
<line x1="54.3" y1="494.8" x2="112.2" y2="494.8" stroke="#111" stroke-width="1"/>
<path d="M64.6,494.8 L61.4,493.5 Q57.8,493.0 57.8,494.8 Q57.8,496.6 61.4,496.1 Z" fill="#111" stroke="none"/>
<path d="M73.6,494.8 L76.8,493.5 Q80.4,493.0 80.4,494.8 Q80.4,496.6 76.8,496.1 Z" fill="#111" stroke="none"/>
<text x="87.7" y="490.4" font-family='"Liberation Sans", sans-serif' font-size="11" font-weight="bold" fill="#111" text-anchor="start" stroke="#111" stroke-width="0.3" >48.5</text>
<line x1="64.6" y1="515.6" x2="109.3" y2="515.6" stroke="#111" stroke-width="1"/>
<path d="M64.6,515.6 L67.8,514.3 Q71.4,513.8 71.4,515.6 Q71.4,517.4 67.8,516.9 Z" fill="#111" stroke="none"/>
<path d="M109.3,515.6 L106.1,514.3 Q102.5,513.8 102.5,515.6 Q102.5,517.4 106.1,516.9 Z" fill="#111" stroke="none"/>
<text x="78.4" y="511.0" font-family='"Liberation Sans", sans-serif' font-size="11" font-weight="bold" fill="#111" text-anchor="start" textLength="15.4" lengthAdjust="spacingAndGlyphs" stroke="#111" stroke-width="0.3" >303</text>
<text x="287" y="328.0" font-family='"Liberation Sans", sans-serif' font-size="14" font-weight="bold" fill="#111" text-anchor="start" letter-spacing="1.6" stroke="#111" stroke-width="0.9" >FH97B..</text>
<line x1="278.7" y1="358.8" x2="318.5" y2="358.8" stroke="#111" stroke-width="1"/>
<path d="M278.7,358.8 L281.9,357.5 Q285.5,357.0 285.5,358.8 Q285.5,360.6 281.9,360.1 Z" fill="#111" stroke="none"/>
<path d="M318.5,358.8 L315.3,357.5 Q311.7,357.0 311.7,358.8 Q311.7,360.6 315.3,360.1 Z" fill="#111" stroke="none"/>
<text x="288.5" y="354.9" font-family='"Liberation Sans", sans-serif' font-size="11" font-weight="bold" fill="#111" text-anchor="start" stroke="#111" stroke-width="0.3" >274</text>
<line x1="278.7" y1="358.7" x2="278.7" y2="516" stroke="#111" stroke-width="1"/>
<line x1="318.5" y1="358.8" x2="318.5" y2="379" stroke="#111" stroke-width="1"/>
<path d="M284.9,381 L288.3,378.9 L318.1,378.9" fill="none" stroke="#111" stroke-width="1.2"/>
<line x1="284.9" y1="381" x2="284.9" y2="458.6" stroke="#111" stroke-width="1.2"/>
<rect x="300.3" y="377.4" width="3.8999999999999773" height="27.30000000000001" rx="0" fill="none" stroke="#111" stroke-width="1"/>
<line x1="300.3" y1="411.6" x2="300.3" y2="458" stroke="#111" stroke-width="1"/>
<line x1="304.2" y1="411.6" x2="304.2" y2="458" stroke="#111" stroke-width="1"/>
<circle cx="290.3" cy="384" r="1.8" fill="none" stroke="#111" stroke-width="1"/>
<polygon points="299.8,388.5 299.8,394.8 285.5,400.7 285.5,396.5" fill="url(#h1)" stroke="#111" stroke-width="1.2"/>
<polygon points="299.8,388.5 299.8,394 294.0,394.5" fill="#111"/>
<line x1="299.1" y1="379" x2="299.1" y2="389" stroke="#111" stroke-width="1.4"/>
<line x1="284.9" y1="404.7" x2="318.1" y2="404.7" stroke="#111" stroke-width="1.1"/>
<line x1="284.9" y1="411.6" x2="318.1" y2="411.6" stroke="#111" stroke-width="1.1"/>
<circle cx="286.7" cy="407.8" r="1.3" fill="none" stroke="#111" stroke-width="1"/>
<circle cx="316.3" cy="407.8" r="1.3" fill="none" stroke="#111" stroke-width="1"/>
<line x1="316.6" y1="411.6" x2="316.6" y2="458" stroke="#111" stroke-width="1"/>
<rect x="318.7" y="378.5" width="2.6" height="46" fill="#111"/>
<polyline points="284.9,425 281.0,425 279.5,427" fill="none" stroke="#111" stroke-width="1"/>
<line x1="279.5" y1="433" x2="279.5" y2="462.6" stroke="#111" stroke-width="1.8"/>
<line x1="279.5" y1="462.6" x2="284.9" y2="462.6" stroke="#111" stroke-width="1"/>
<polyline points="318.1,425 321.5,425 322.7,427 322.7,436" fill="none" stroke="#111" stroke-width="1"/>
<line x1="322.1" y1="436" x2="322.1" y2="463" stroke="#111" stroke-width="1.8"/>
<line x1="318.1" y1="463" x2="322.1" y2="463" stroke="#111" stroke-width="1"/>
<line x1="285.5" y1="458.3" x2="319.1" y2="458.3" stroke="#111" stroke-width="1.1"/>
<circle cx="286.9" cy="462.1" r="1.4" fill="none" stroke="#111" stroke-width="1.2"/>
<circle cx="315.6" cy="462.1" r="1.4" fill="none" stroke="#111" stroke-width="1.2"/>
<rect x="285.5" y="465" width="33.6" height="5" fill="url(#fins)"/>
<line x1="285.5" y1="465.2" x2="319.1" y2="465.2" stroke="#111" stroke-width="1"/>
<line x1="285.5" y1="466.8" x2="319.1" y2="466.8" stroke="#111" stroke-width="0.8"/>
<line x1="285.5" y1="470.5" x2="319.1" y2="470.5" stroke="#111" stroke-width="2.2"/>
<line x1="285.5" y1="458.3" x2="285.5" y2="470.5" stroke="#111" stroke-width="1"/>
<line x1="319.1" y1="458.3" x2="319.1" y2="470.5" stroke="#111" stroke-width="1"/>
<line x1="273.9" y1="444" x2="324.8" y2="444" stroke="#222" stroke-width="0.8" stroke-dasharray="7 2 1.5 2"/>
<rect x="321.8" y="387" width="2.599999999999966" height="28.30000000000001" rx="0" fill="none" stroke="#111" stroke-width="0.9"/>
<path d="M324.4,384.9 L363.5,384.9 L368.0,389.9 L368.0,412.7 L363.5,417.1 L324.4,417.1 Z" fill="none" stroke="#111" stroke-width="1.3"/>
<rect x="325.4" y="386.2" width="28.2" height="2.4" fill="url(#fins)"/>
<rect x="325.4" y="413.4" width="28.2" height="2.4" fill="url(#fins)"/>
<line x1="325.4" y1="388.6" x2="353.6" y2="388.6" stroke="#111" stroke-width="1"/>
<line x1="325.4" y1="413.3" x2="353.6" y2="413.3" stroke="#111" stroke-width="1"/>
<line x1="353.6" y1="384.9" x2="353.6" y2="417.1" stroke="#111" stroke-width="1"/>
<rect x="325.4" y="392.9" width="12.9" height="15.8" fill="url(#fins)"/>
<rect x="338.8" y="392.4" width="15.300000000000011" height="16.30000000000001" rx="0" fill="none" stroke="#111" stroke-width="1"/>
<line x1="315.5" y1="401.8" x2="371.0" y2="401.8" stroke="#222" stroke-width="0.8" stroke-dasharray="7 2 1.5 2"/>
<rect x="320.8" y="431.2" width="13.300000000000011" height="27.100000000000023" rx="0" fill="none" stroke="#111" stroke-width="1.2"/>
<line x1="334" y1="431.2" x2="362" y2="431.2" stroke="#111" stroke-width="1"/>
<line x1="334" y1="458.5" x2="362" y2="458.5" stroke="#111" stroke-width="1"/>
<line x1="361.7" y1="431.2" x2="361.7" y2="458.5" stroke="#111" stroke-width="1"/>
<path d="M361.7,431.2 L360.4,434.4 Q359.9,438.0 361.7,438.0 Q363.5,438.0 363.0,434.4 Z" fill="#111" stroke="none"/>
<path d="M361.7,458.5 L360.4,455.3 Q359.9,451.7 361.7,451.7 Q363.5,451.7 363.0,455.3 Z" fill="#111" stroke="none"/>
<text transform="translate(357.3,456) rotate(-90)" x="0" y="0" font-family='"Liberation Sans", sans-serif' font-size="11" font-weight="bold" fill="#111" stroke="#111" stroke-width="0.3" textLength="24.5" lengthAdjust="spacingAndGlyphs">Φ174</text>
<line x1="280.5" y1="462" x2="280.5" y2="481.7" stroke="#111" stroke-width="1"/>
<line x1="286.3" y1="470" x2="286.3" y2="495" stroke="#111" stroke-width="1"/>
<line x1="334" y1="458.5" x2="334" y2="516" stroke="#111" stroke-width="1"/>
<line x1="254" y1="481.1" x2="290" y2="481.1" stroke="#111" stroke-width="1"/>
<path d="M278.7,481.1 L275.5,479.8 Q271.9,479.3 271.9,481.1 Q271.9,482.9 275.5,482.4 Z" fill="#111" stroke="none"/>
<path d="M280.5,481.1 L283.7,479.8 Q287.3,479.3 287.3,481.1 Q287.3,482.9 283.7,482.4 Z" fill="#111" stroke="none"/>
<text x="257" y="478.6" font-family='"Liberation Sans", sans-serif' font-size="11" font-weight="bold" fill="#111" text-anchor="start" stroke="#111" stroke-width="0.3" >4</text>
<line x1="267.4" y1="494.6" x2="325.8" y2="494.6" stroke="#111" stroke-width="1"/>
<path d="M278.7,494.6 L275.5,493.3 Q271.9,492.8 271.9,494.6 Q271.9,496.4 275.5,495.9 Z" fill="#111" stroke="none"/>
<path d="M286.3,494.6 L289.5,493.3 Q293.1,492.8 293.1,494.6 Q293.1,496.4 289.5,495.9 Z" fill="#111" stroke="none"/>
<text x="300.5" y="490.5" font-family='"Liberation Sans", sans-serif' font-size="11" font-weight="bold" fill="#111" text-anchor="start" stroke="#111" stroke-width="0.3" >48.5</text>
<line x1="278.7" y1="515.3" x2="334.8" y2="515.3" stroke="#111" stroke-width="1"/>
<path d="M278.7,515.3 L281.9,514.0 Q285.5,513.5 285.5,515.3 Q285.5,517.1 281.9,516.6 Z" fill="#111" stroke="none"/>
<path d="M334.8,515.3 L331.6,514.0 Q328.0,513.5 328.0,515.3 Q328.0,517.1 331.6,516.6 Z" fill="#111" stroke="none"/>
<text x="296.9" y="511.3" font-family='"Liberation Sans", sans-serif' font-size="11" font-weight="bold" fill="#111" text-anchor="start" textLength="17.3" lengthAdjust="spacingAndGlyphs" stroke="#111" stroke-width="0.3" >357</text>
<text x="477" y="328.0" font-family='"Liberation Sans", sans-serif' font-size="14" font-weight="bold" fill="#111" text-anchor="start" letter-spacing="1.6" stroke="#111" stroke-width="0.9" >FV97B..</text>
<line x1="472.7" y1="358.8" x2="513.5" y2="358.8" stroke="#111" stroke-width="1"/>
<path d="M472.7,358.8 L475.9,357.5 Q479.5,357.0 479.5,358.8 Q479.5,360.6 475.9,360.1 Z" fill="#111" stroke="none"/>
<path d="M513.5,358.8 L510.3,357.5 Q506.7,357.0 506.7,358.8 Q506.7,360.6 510.3,360.1 Z" fill="#111" stroke="none"/>
<text x="483" y="354.9" font-family='"Liberation Sans", sans-serif' font-size="11" font-weight="bold" fill="#111" text-anchor="start" stroke="#111" stroke-width="0.3" >274</text>
<line x1="472.7" y1="358.7" x2="472.7" y2="516" stroke="#111" stroke-width="1"/>
<line x1="513.5" y1="358.8" x2="513.5" y2="379" stroke="#111" stroke-width="1"/>
<path d="M478.9,381 L482.3,378.9 L512.1,378.9" fill="none" stroke="#111" stroke-width="1.2"/>
<line x1="478.9" y1="381" x2="478.9" y2="458.6" stroke="#111" stroke-width="1.2"/>
<rect x="494.3" y="377.4" width="3.8999999999999773" height="27.30000000000001" rx="0" fill="none" stroke="#111" stroke-width="1"/>
<line x1="494.3" y1="411.6" x2="494.3" y2="458" stroke="#111" stroke-width="1"/>
<line x1="498.2" y1="411.6" x2="498.2" y2="458" stroke="#111" stroke-width="1"/>
<circle cx="484.3" cy="384" r="1.8" fill="none" stroke="#111" stroke-width="1"/>
<polygon points="493.8,388.5 493.8,394.8 479.5,400.7 479.5,396.5" fill="url(#h1)" stroke="#111" stroke-width="1.2"/>
<polygon points="493.8,388.5 493.8,394 488.0,394.5" fill="#111"/>
<line x1="493.1" y1="379" x2="493.1" y2="389" stroke="#111" stroke-width="1.4"/>
<line x1="478.9" y1="404.7" x2="512.1" y2="404.7" stroke="#111" stroke-width="1.1"/>
<line x1="478.9" y1="411.6" x2="512.1" y2="411.6" stroke="#111" stroke-width="1.1"/>
<circle cx="480.7" cy="407.8" r="1.3" fill="none" stroke="#111" stroke-width="1"/>
<circle cx="510.3" cy="407.8" r="1.3" fill="none" stroke="#111" stroke-width="1"/>
<line x1="510.6" y1="411.6" x2="510.6" y2="458" stroke="#111" stroke-width="1"/>
<rect x="512.7" y="378.5" width="2.6" height="46" fill="#111"/>
<rect x="473.5" y="425.8" width="5.399999999999977" height="38.19999999999999" rx="0" fill="none" stroke="#111" stroke-width="1.2"/>
<line x1="473.8" y1="428" x2="473.8" y2="462" stroke="#111" stroke-width="1.6"/>
<rect x="512.1" y="425.5" width="4.199999999999932" height="38.5" rx="0" fill="none" stroke="#111" stroke-width="1.2"/>
<line x1="516.0" y1="428" x2="516.0" y2="462" stroke="#111" stroke-width="1.4"/>
<line x1="479.5" y1="458.3" x2="513.1" y2="458.3" stroke="#111" stroke-width="1.1"/>
<circle cx="480.9" cy="462.1" r="1.4" fill="none" stroke="#111" stroke-width="1.2"/>
<circle cx="509.6" cy="462.1" r="1.4" fill="none" stroke="#111" stroke-width="1.2"/>
<rect x="479.5" y="465" width="33.6" height="5" fill="url(#fins)"/>
<line x1="479.5" y1="465.2" x2="513.1" y2="465.2" stroke="#111" stroke-width="1"/>
<line x1="479.5" y1="466.8" x2="513.1" y2="466.8" stroke="#111" stroke-width="0.8"/>
<line x1="479.5" y1="470.5" x2="513.1" y2="470.5" stroke="#111" stroke-width="2.2"/>
<line x1="479.5" y1="458.3" x2="479.5" y2="470.5" stroke="#111" stroke-width="1"/>
<line x1="513.1" y1="458.3" x2="513.1" y2="470.5" stroke="#111" stroke-width="1"/>
<line x1="467.9" y1="444" x2="518.8" y2="444" stroke="#222" stroke-width="0.8" stroke-dasharray="7 2 1.5 2"/>
<rect x="515.8" y="387" width="2.6000000000000227" height="28.30000000000001" rx="0" fill="none" stroke="#111" stroke-width="0.9"/>
<path d="M518.4,384.9 L557.5,384.9 L562.0,389.9 L562.0,412.7 L557.5,417.1 L518.4,417.1 Z" fill="none" stroke="#111" stroke-width="1.3"/>
<rect x="519.4" y="386.2" width="28.2" height="2.4" fill="url(#fins)"/>
<rect x="519.4" y="413.4" width="28.2" height="2.4" fill="url(#fins)"/>
<line x1="519.4" y1="388.6" x2="547.6" y2="388.6" stroke="#111" stroke-width="1"/>
<line x1="519.4" y1="413.3" x2="547.6" y2="413.3" stroke="#111" stroke-width="1"/>
<line x1="547.6" y1="384.9" x2="547.6" y2="417.1" stroke="#111" stroke-width="1"/>
<rect x="519.4" y="392.9" width="12.9" height="15.8" fill="url(#fins)"/>
<rect x="532.8" y="392.4" width="15.300000000000068" height="16.30000000000001" rx="0" fill="none" stroke="#111" stroke-width="1"/>
<line x1="509.5" y1="401.8" x2="565.0" y2="401.8" stroke="#222" stroke-width="0.8" stroke-dasharray="7 2 1.5 2"/>
<line x1="474.5" y1="462" x2="474.5" y2="481.7" stroke="#111" stroke-width="1"/>
<line x1="480.4" y1="470" x2="480.4" y2="495" stroke="#111" stroke-width="1"/>
<line x1="516.2" y1="462" x2="516.2" y2="516" stroke="#111" stroke-width="1"/>
<line x1="448.4" y1="481" x2="484.4" y2="481" stroke="#111" stroke-width="1"/>
<path d="M472.6,481 L469.4,479.7 Q465.8,479.2 465.8,481 Q465.8,482.8 469.4,482.3 Z" fill="#111" stroke="none"/>
<path d="M474.5,481 L477.7,479.7 Q481.3,479.2 481.3,481 Q481.3,482.8 477.7,482.3 Z" fill="#111" stroke="none"/>
<text x="451.4" y="478.6" font-family='"Liberation Sans", sans-serif' font-size="11" font-weight="bold" fill="#111" text-anchor="start" stroke="#111" stroke-width="0.3" >4</text>
<line x1="462" y1="494.8" x2="520" y2="494.8" stroke="#111" stroke-width="1"/>
<path d="M472.6,494.8 L469.4,493.5 Q465.8,493.0 465.8,494.8 Q465.8,496.6 469.4,496.1 Z" fill="#111" stroke="none"/>
<path d="M480.4,494.8 L483.6,493.5 Q487.2,493.0 487.2,494.8 Q487.2,496.6 483.6,496.1 Z" fill="#111" stroke="none"/>
<text x="496" y="490.5" font-family='"Liberation Sans", sans-serif' font-size="11" font-weight="bold" fill="#111" text-anchor="start" stroke="#111" stroke-width="0.3" >48.5</text>
<line x1="472.6" y1="515.4" x2="516.2" y2="515.4" stroke="#111" stroke-width="1"/>
<path d="M472.6,515.4 L475.8,514.1 Q479.4,513.6 479.4,515.4 Q479.4,517.2 475.8,516.7 Z" fill="#111" stroke="none"/>
<path d="M516.2,515.4 L513.0,514.1 Q509.4,513.6 509.4,515.4 Q509.4,517.2 513.0,516.7 Z" fill="#111" stroke="none"/>
<text x="484.6" y="511.2" font-family='"Liberation Sans", sans-serif' font-size="11" font-weight="bold" fill="#111" text-anchor="start" textLength="17.8" lengthAdjust="spacingAndGlyphs" stroke="#111" stroke-width="0.3" >300</text>
<line x1="53" y1="549.8" x2="132.2" y2="549.8" stroke="#111" stroke-width="1"/>
<path d="M53,549.8 L56.2,548.5 Q59.8,548.0 59.8,549.8 Q59.8,551.6 56.2,551.1 Z" fill="#111" stroke="none"/>
<path d="M132.2,549.8 L129.0,548.5 Q125.4,548.0 125.4,549.8 Q125.4,551.6 129.0,551.1 Z" fill="#111" stroke="none"/>
<text x="82.7" y="545.9" font-family='"Liberation Sans", sans-serif' font-size="11" font-weight="bold" fill="#111" text-anchor="start" stroke="#111" stroke-width="0.3" >300</text>
<line x1="53" y1="549.8" x2="53" y2="645" stroke="#111" stroke-width="1"/>
<line x1="132.2" y1="549.8" x2="132.2" y2="573.5" stroke="#111" stroke-width="1"/>
<rect x="71.6" y="573.5" width="49.4" height="3.5" fill="url(#h1)" stroke="none"/>
<rect x="71.6" y="596.6" width="49.4" height="3.5" fill="url(#h1)" stroke="none"/>
<rect x="71.6" y="572" width="23" height="1.5" fill="url(#h1)"/><rect x="94.7" y="570" width="17.3" height="3.5" fill="url(#h1)"/>
<rect x="71.6" y="600" width="23" height="1.5" fill="url(#h1)"/><rect x="94.7" y="600" width="17.3" height="3.5" fill="url(#h1)"/>
<polyline points="53,573.5 71.6,573.5 71.6,572 94.7,572 94.7,570 112,570 112,573.5 134,573.5" fill="none" stroke="#111" stroke-width="1.2"/>
<polyline points="53,600 71.6,600 71.6,601.5 94.7,601.5 94.7,603.5 112,603.5 112,600 134,600" fill="none" stroke="#111" stroke-width="1.2"/>
<line x1="53" y1="573.5" x2="53" y2="600" stroke="#111" stroke-width="1.2"/>
<line x1="53" y1="577" x2="121" y2="577" stroke="#111" stroke-width="1"/>
<line x1="53" y1="596.6" x2="121" y2="596.6" stroke="#111" stroke-width="1"/>
<rect x="121" y="573.3" width="13.5" height="27" fill="#fff" stroke="#111" stroke-width="1.2"/>
<rect x="128" y="573.8" width="6" height="26" fill="url(#h1)"/>
<line x1="134.2" y1="573.3" x2="134.2" y2="600.3" stroke="#111" stroke-width="1.8"/>
<rect x="122.5" y="577" width="1.2" height="1.2" fill="#333"/><rect x="125.5" y="577" width="1.2" height="1.2" fill="#333"/>
<rect x="122.5" y="580.5" width="1.2" height="1.2" fill="#333"/><rect x="125.5" y="580.5" width="1.2" height="1.2" fill="#333"/>
<rect x="122.5" y="584" width="1.2" height="1.2" fill="#333"/><rect x="125.5" y="584" width="1.2" height="1.2" fill="#333"/>
<rect x="122.5" y="588" width="1.2" height="1.2" fill="#333"/><rect x="125.5" y="588" width="1.2" height="1.2" fill="#333"/>
<rect x="122.5" y="591.5" width="1.2" height="1.2" fill="#333"/><rect x="125.5" y="591.5" width="1.2" height="1.2" fill="#333"/>
<rect x="122.5" y="595" width="1.2" height="1.2" fill="#333"/><rect x="125.5" y="595" width="1.2" height="1.2" fill="#333"/>
<line x1="63.5" y1="577" x2="63.5" y2="596.6" stroke="#111" stroke-width="1.2"/>
<rect x="107.4" y="584" width="13.599999999999994" height="6.7999999999999545" rx="0" fill="none" stroke="#111" stroke-width="0.9"/>
<line x1="107.4" y1="577" x2="107.4" y2="596.6" stroke="#111" stroke-width="0.8"/>
<line x1="49.7" y1="587.3" x2="138" y2="587.3" stroke="#222" stroke-width="0.8" stroke-dasharray="7 2 1.5 2"/>
<line x1="23" y1="573.5" x2="23" y2="599" stroke="#111" stroke-width="1"/>
<path d="M23,573.5 L21.7,576.7 Q21.2,580.3 23,580.3 Q24.8,580.3 24.3,576.7 Z" fill="#111" stroke="none"/>
<path d="M23,599 L21.7,595.8 Q21.2,592.2 23,592.2 Q24.8,592.2 24.3,595.8 Z" fill="#111" stroke="none"/>
<line x1="22" y1="573.5" x2="53" y2="573.5" stroke="#111" stroke-width="1"/>
<line x1="22" y1="599" x2="53" y2="599" stroke="#111" stroke-width="1"/>
<text transform="translate(19,595.4) rotate(-90)" x="0" y="0" font-family='"Liberation Sans", sans-serif' font-size="11" font-weight="bold" fill="#111" stroke="#111" stroke-width="0.3">Φ95</text>
<line x1="38" y1="577" x2="38" y2="641.6" stroke="#111" stroke-width="1"/>
<path d="M38,577 L36.7,580.2 Q36.2,583.8 38,583.8 Q39.8,583.8 39.3,580.2 Z" fill="#111" stroke="none"/>
<path d="M38,596.6 L36.7,593.4 Q36.2,589.8 38,589.8 Q39.8,589.8 39.3,593.4 Z" fill="#111" stroke="none"/>
<line x1="38" y1="577" x2="53" y2="577" stroke="#111" stroke-width="1"/>
<line x1="38" y1="596.6" x2="53" y2="596.6" stroke="#111" stroke-width="1"/>
<text transform="translate(34,641.6) rotate(-90)" x="0" y="0" font-family='"Liberation Sans", sans-serif' font-size="11" font-weight="bold" fill="#111" stroke="#111" stroke-width="0.3">Φ70<tspan font-size="6" dy="-5">H7</tspan></text>
<line x1="78.5" y1="625.4" x2="129.3" y2="625.4" stroke="#111" stroke-width="1"/>
<path d="M107.4,625.4 L104.2,624.1 Q100.6,623.6 100.6,625.4 Q100.6,627.2 104.2,626.7 Z" fill="#111" stroke="none"/>
<path d="M121.2,625.4 L124.4,624.1 Q128.0,623.6 128.0,625.4 Q128.0,627.2 124.4,626.7 Z" fill="#111" stroke="none"/>
<text x="79.7" y="621.9" font-family='"Liberation Sans", sans-serif' font-size="11" font-weight="bold" fill="#111" text-anchor="start" stroke="#111" stroke-width="0.3" >34</text>
<line x1="53" y1="642.8" x2="121.2" y2="642.8" stroke="#111" stroke-width="1"/>
<path d="M53,642.8 L56.2,641.5 Q59.8,641.0 59.8,642.8 Q59.8,644.6 56.2,644.1 Z" fill="#111" stroke="none"/>
<path d="M121.2,642.8 L118.0,641.5 Q114.4,641.0 114.4,642.8 Q114.4,644.6 118.0,644.1 Z" fill="#111" stroke="none"/>
<text x="77.4" y="638.9" font-family='"Liberation Sans", sans-serif' font-size="11" font-weight="bold" fill="#111" text-anchor="start" stroke="#111" stroke-width="0.3" >270</text>
<line x1="107.4" y1="600" x2="107.4" y2="627" stroke="#111" stroke-width="1"/>
<line x1="121.2" y1="600" x2="121.2" y2="645" stroke="#111" stroke-width="1"/>
<polyline points="125.6,596 128.2,600 132.7,615.8 153.6,615.8" fill="none" stroke="#111" stroke-width="1"/>
<polygon points="157.3,604.9 204,604.9 194.3,626.4 147.5,626.4" fill="none" stroke="#111" stroke-width="1"/>
<text x="159" y="614.1" font-family='"Liberation Sans", sans-serif' font-size="8" font-weight="bold" fill="#111" text-anchor="start" textLength="39.3" lengthAdjust="spacingAndGlyphs" stroke="#111" stroke-width="0.3" >G B878 1-86</text>
<text x="153.3" y="622.5" font-family='"Liberation Sans", sans-serif' font-size="8" font-weight="bold" fill="#111" text-anchor="start" textLength="41" lengthAdjust="spacingAndGlyphs" stroke="#111" stroke-width="0.3" >M20 t50-8.8</text>
<circle cx="184.4" cy="586.7" r="12.2" fill="none" stroke="url(#h2)" stroke-width="4.6"/>
<circle cx="184.4" cy="586.7" r="12.2" fill="none" stroke="#222" stroke-width="4.2" stroke-dasharray="1.2 1.6"/>
<circle cx="184.4" cy="586.7" r="14.5" fill="none" stroke="#111" stroke-width="1.3"/>
<circle cx="184.4" cy="586.7" r="10" fill="none" stroke="#111" stroke-width="1.2"/>
<line x1="182.6" y1="556.8" x2="182.6" y2="573" stroke="#111" stroke-width="1"/>
<line x1="186.2" y1="556.8" x2="186.2" y2="573" stroke="#111" stroke-width="1"/>
<line x1="172" y1="586.7" x2="197" y2="586.7" stroke="#222" stroke-width="0.8" stroke-dasharray="7 2 1.5 2"/>
<line x1="184.4" y1="574" x2="184.4" y2="600" stroke="#222" stroke-width="0.8" stroke-dasharray="7 2 1.5 2"/>
<line x1="171.7" y1="557" x2="216.2" y2="557" stroke="#111" stroke-width="1"/>
<path d="M182.6,557 L179.4,555.7 Q175.8,555.2 175.8,557 Q175.8,558.8 179.4,558.3 Z" fill="#111" stroke="none"/>
<path d="M186.2,557 L189.4,555.7 Q193.0,555.2 193.0,557 Q193.0,558.8 189.4,558.3 Z" fill="#111" stroke="none"/>
<text x="201.7" y="553.9" font-family='"Liberation Sans", sans-serif' font-size="11" font-weight="bold" fill="#111" text-anchor="start" stroke="#111" stroke-width="0.3" >20</text>
<line x1="219.5" y1="565" x2="219.5" y2="634" stroke="#111" stroke-width="1"/>
<path d="M219.5,575.8 L218.2,572.6 Q217.7,569.0 219.5,569.0 Q221.3,569.0 220.8,572.6 Z" fill="#111" stroke="none"/>
<path d="M219.5,598.5 L218.2,601.7 Q217.7,605.3 219.5,605.3 Q221.3,605.3 220.8,601.7 Z" fill="#111" stroke="none"/>
<line x1="194.4" y1="575.8" x2="221" y2="575.8" stroke="#111" stroke-width="1"/>
<line x1="194.4" y1="596" x2="221" y2="596" stroke="#111" stroke-width="1"/>
<text transform="translate(215,631) rotate(-90)" x="0" y="0" font-family='"Liberation Sans", sans-serif' font-size="11" font-weight="bold" fill="#111" stroke="#111" stroke-width="0.3">74.9</text>
<line x1="275" y1="539.3" x2="352.2" y2="539.3" stroke="#111" stroke-width="1"/>
<path d="M275,539.3 L278.2,538.0 Q281.8,537.5 281.8,539.3 Q281.8,541.1 278.2,540.6 Z" fill="#111" stroke="none"/>
<path d="M352.2,539.3 L349.0,538.0 Q345.4,537.5 345.4,539.3 Q345.4,541.1 349.0,540.6 Z" fill="#111" stroke="none"/>
<text x="304.6" y="535.3" font-family='"Liberation Sans", sans-serif' font-size="11" font-weight="bold" fill="#111" text-anchor="start" stroke="#111" stroke-width="0.3" >345</text>
<line x1="275" y1="539.3" x2="275" y2="661" stroke="#111" stroke-width="1"/>
<line x1="352.2" y1="539.3" x2="352.2" y2="661" stroke="#111" stroke-width="1"/>
<line x1="257" y1="532" x2="257" y2="606" stroke="#111" stroke-width="1"/>
<path d="M257,576.4 L255.7,573.2 Q255.2,569.6 257,569.6 Q258.8,569.6 258.3,573.2 Z" fill="#111" stroke="none"/>
<path d="M257,596 L255.7,599.2 Q255.2,602.8 257,602.8 Q258.8,602.8 258.3,599.2 Z" fill="#111" stroke="none"/>
<text transform="translate(252.6,561.8) rotate(-90)" x="0" y="0" font-family='"Liberation Sans", sans-serif' font-size="11" font-weight="bold" fill="#111" stroke="#111" stroke-width="0.3">Φ75<tspan font-size="6" dy="-5">H7</tspan></text>
<line x1="382.8" y1="532" x2="382.8" y2="606" stroke="#111" stroke-width="1"/>
<path d="M382.8,576.4 L381.5,573.2 Q381.0,569.6 382.8,569.6 Q384.6,569.6 384.1,573.2 Z" fill="#111" stroke="none"/>
<path d="M382.8,596 L381.5,599.2 Q381.0,602.8 382.8,602.8 Q384.6,602.8 384.1,599.2 Z" fill="#111" stroke="none"/>
<text transform="translate(378.2,562) rotate(-90)" x="0" y="0" font-family='"Liberation Sans", sans-serif' font-size="11" font-weight="bold" fill="#111" stroke="#111" stroke-width="0.3">Φ75<tspan font-size="6" dy="-5">H7</tspan></text>
<line x1="257" y1="577.3" x2="275" y2="577.3" stroke="#111" stroke-width="0.8"/>
<line x1="353" y1="577.3" x2="382.8" y2="577.3" stroke="#111" stroke-width="0.8"/>
<line x1="257" y1="596" x2="275" y2="596" stroke="#111" stroke-width="0.8"/>
<line x1="353" y1="596" x2="382.8" y2="596" stroke="#111" stroke-width="0.8"/>
<line x1="244.2" y1="573.5" x2="244.2" y2="599.5" stroke="#111" stroke-width="1"/>
<path d="M244.2,573.5 L242.9,576.7 Q242.4,580.3 244.2,580.3 Q246.0,580.3 245.5,576.7 Z" fill="#111" stroke="none"/>
<path d="M244.2,599.5 L242.9,596.3 Q242.4,592.7 244.2,592.7 Q246.0,592.7 245.5,596.3 Z" fill="#111" stroke="none"/>
<line x1="243" y1="573.5" x2="275" y2="573.5" stroke="#111" stroke-width="1"/>
<line x1="243" y1="599.5" x2="275" y2="599.5" stroke="#111" stroke-width="1"/>
<text transform="translate(239.8,596) rotate(-90)" x="0" y="0" font-family='"Liberation Sans", sans-serif' font-size="11" font-weight="bold" fill="#111" stroke="#111" stroke-width="0.3">Φ95</text>
<line x1="264.5" y1="560.2" x2="295.7" y2="560.2" stroke="#111" stroke-width="1"/>
<path d="M274.8,560.2 L271.6,558.9 Q268.0,558.4 268.0,560.2 Q268.0,562.0 271.6,561.5 Z" fill="#111" stroke="none"/>
<path d="M285.8,560.2 L289.0,558.9 Q292.6,558.4 292.6,560.2 Q292.6,562.0 289.0,561.5 Z" fill="#111" stroke="none"/>
<text x="275" y="555.9" font-family='"Liberation Sans", sans-serif' font-size="11" font-weight="bold" fill="#111" text-anchor="start" stroke="#111" stroke-width="0.3" >50</text>
<line x1="330" y1="560.2" x2="362.6" y2="560.2" stroke="#111" stroke-width="1"/>
<path d="M339.8,560.2 L336.6,558.9 Q333.0,558.4 333.0,560.2 Q333.0,562.0 336.6,561.5 Z" fill="#111" stroke="none"/>
<path d="M353,560.2 L356.2,558.9 Q359.8,558.4 359.8,560.2 Q359.8,562.0 356.2,561.5 Z" fill="#111" stroke="none"/>
<text x="338.8" y="555.9" font-family='"Liberation Sans", sans-serif' font-size="11" font-weight="bold" fill="#111" text-anchor="start" stroke="#111" stroke-width="0.3" >55</text>
<line x1="285.8" y1="560" x2="285.8" y2="577" stroke="#111" stroke-width="1"/>
<line x1="339.8" y1="560" x2="339.8" y2="564" stroke="#111" stroke-width="1"/>
<rect x="275" y="573.5" width="78" height="3.8" fill="url(#h1)"/><rect x="292.7" y="572" width="60" height="1.5" fill="url(#h1)"/><rect x="316.2" y="570" width="17.8" height="2" fill="url(#h1)"/>
<rect x="275" y="596" width="78" height="3.5" fill="url(#h1)"/><rect x="292.7" y="599.5" width="60" height="1.5" fill="url(#h1)"/><rect x="316.2" y="601" width="17.8" height="2" fill="url(#h1)"/>
<polyline points="275,573.5 292.7,573.5 292.7,572.2 316.2,572.2 316.2,570 334,570 334,572.2 353,572.2" fill="none" stroke="#111" stroke-width="1.3"/>
<polyline points="275,599.5 292.7,599.5 292.7,600.8 316.2,600.8 316.2,603 334,603 334,600.8 353,600.8" fill="none" stroke="#111" stroke-width="1.3"/>
<line x1="275" y1="573" x2="275" y2="600" stroke="#111" stroke-width="1.6"/>
<line x1="275" y1="577.3" x2="353" y2="577.3" stroke="#111" stroke-width="1"/>
<line x1="275" y1="596" x2="353" y2="596" stroke="#111" stroke-width="1"/>
<line x1="285.8" y1="577.3" x2="285.8" y2="596" stroke="#111" stroke-width="1.5"/>
<line x1="339.8" y1="577.3" x2="339.8" y2="596" stroke="#111" stroke-width="1.5"/>
<rect x="340.4" y="564.2" width="12.7" height="8" fill="#333" stroke="#111" stroke-width="1"/>
<rect x="340.4" y="601.2" width="12.7" height="8" fill="#333" stroke="#111" stroke-width="1"/>
<rect x="343" y="566.2" width="2" height="1.5" fill="#fff"/><rect x="347.5" y="566.2" width="2" height="1.5" fill="#fff"/>
<rect x="343" y="569.2" width="2" height="1.5" fill="#fff"/><rect x="347.5" y="569.2" width="2" height="1.5" fill="#fff"/>
<rect x="343" y="603.2" width="2" height="1.5" fill="#fff"/><rect x="347.5" y="603.2" width="2" height="1.5" fill="#fff"/>
<rect x="343" y="606.2" width="2" height="1.5" fill="#fff"/><rect x="347.5" y="606.2" width="2" height="1.5" fill="#fff"/>
<line x1="272" y1="586.8" x2="358" y2="586.8" stroke="#222" stroke-width="0.8" stroke-dasharray="7 2 1.5 2"/>
<line x1="264.5" y1="644.4" x2="316.5" y2="644.4" stroke="#111" stroke-width="1"/>
<path d="M274.9,644.4 L271.7,643.1 Q268.1,642.6 268.1,644.4 Q268.1,646.2 271.7,645.7 Z" fill="#111" stroke="none"/>
<path d="M287.7,644.4 L290.9,643.1 Q294.5,642.6 294.5,644.4 Q294.5,646.2 290.9,645.7 Z" fill="#111" stroke="none"/>
<text x="301.7" y="640.4" font-family='"Liberation Sans", sans-serif' font-size="11" font-weight="bold" fill="#111" text-anchor="start" stroke="#111" stroke-width="0.3" >55</text>
<line x1="328.4" y1="644.2" x2="386" y2="644.2" stroke="#111" stroke-width="1"/>
<path d="M338.9,644.2 L335.7,642.9 Q332.1,642.4 332.1,644.2 Q332.1,646.0 335.7,645.5 Z" fill="#111" stroke="none"/>
<path d="M352.9,644.2 L356.1,642.9 Q359.7,642.4 359.7,644.2 Q359.7,646.0 356.1,645.5 Z" fill="#111" stroke="none"/>
<text x="367.2" y="640.8" font-family='"Liberation Sans", sans-serif' font-size="11" font-weight="bold" fill="#111" text-anchor="start" stroke="#111" stroke-width="0.3" >60</text>
<line x1="287.7" y1="644" x2="287.7" y2="680" stroke="#111" stroke-width="1"/>
<line x1="338.9" y1="644" x2="338.9" y2="680" stroke="#111" stroke-width="1"/>
<line x1="275" y1="661.6" x2="352.9" y2="661.6" stroke="#111" stroke-width="1.8"/>
<line x1="275" y1="680.3" x2="352.9" y2="680.3" stroke="#111" stroke-width="1.8"/>
<line x1="352.9" y1="661.6" x2="352.9" y2="680.3" stroke="#111" stroke-width="1.3"/>
<path d="M275.4,657.5 L260,657.5 Q256,662 256.5,666 Q258,670 262,672 Q256,676 256.5,680 Q257,684 260,685 L275.4,685 Z" fill="none" stroke="#111" stroke-width="1.2"/>
<line x1="260" y1="657.5" x2="275.4" y2="657.5" stroke="#111" stroke-width="1.8"/>
<line x1="260" y1="685" x2="275.4" y2="685" stroke="#111" stroke-width="1.8"/>
<line x1="275.4" y1="657.5" x2="275.4" y2="685" stroke="#111" stroke-width="1.4"/>
<path d="M257.5,677 Q262,675 262,680 Q261,684 258,682" fill="none" stroke="#111" stroke-width="0.8"/>
<line x1="250" y1="671.2" x2="359" y2="671.2" stroke="#222" stroke-width="0.8" stroke-dasharray="7 2 1.5 2"/>
<line x1="239.2" y1="651" x2="239.2" y2="724" stroke="#111" stroke-width="1"/>
<path d="M239.2,661.6 L237.9,658.4 Q237.4,654.8 239.2,654.8 Q241.0,654.8 240.5,658.4 Z" fill="#111" stroke="none"/>
<path d="M239.2,681 L237.9,684.2 Q237.4,687.8 239.2,687.8 Q241.0,687.8 240.5,684.2 Z" fill="#111" stroke="none"/>
<line x1="239.2" y1="661.4" x2="275" y2="661.4" stroke="#111" stroke-width="0.8"/>
<line x1="239.2" y1="681" x2="275" y2="681" stroke="#111" stroke-width="0.8"/>
<line x1="352.9" y1="661.6" x2="382.5" y2="661.6" stroke="#111" stroke-width="0.8"/>
<line x1="352.9" y1="680.2" x2="382.5" y2="680.2" stroke="#111" stroke-width="0.8"/>
<text transform="translate(236,722) rotate(-90)" x="0" y="0" font-family='"Liberation Sans", sans-serif' font-size="11" font-weight="bold" fill="#111" stroke="#111" stroke-width="0.3">Φ75<tspan font-size="6" dy="2">h6</tspan></text>
<line x1="382.5" y1="651.5" x2="382.5" y2="725" stroke="#111" stroke-width="1"/>
<path d="M382.5,661.6 L381.2,658.4 Q380.7,654.8 382.5,654.8 Q384.3,654.8 383.8,658.4 Z" fill="#111" stroke="none"/>
<path d="M382.5,680.2 L381.2,683.4 Q380.7,687.0 382.5,687.0 Q384.3,687.0 383.8,683.4 Z" fill="#111" stroke="none"/>
<text transform="translate(378.7,721.6) rotate(-90)" x="0" y="0" font-family='"Liberation Sans", sans-serif' font-size="11" font-weight="bold" fill="#111" stroke="#111" stroke-width="0.3">Φ75<tspan font-size="6" dy="2">h6</tspan></text>
<line x1="440" y1="540" x2="517.3" y2="540" stroke="#111" stroke-width="1"/>
<path d="M440,540 L443.2,538.7 Q446.8,538.2 446.8,540 Q446.8,541.8 443.2,541.3 Z" fill="#111" stroke="none"/>
<path d="M517.3,540 L514.1,538.7 Q510.5,538.2 510.5,540 Q510.5,541.8 514.1,541.3 Z" fill="#111" stroke="none"/>
<text x="468" y="536.3" font-family='"Liberation Sans", sans-serif' font-size="11" font-weight="bold" fill="#111" text-anchor="start" stroke="#111" stroke-width="0.3" >300</text>
<line x1="440.5" y1="540" x2="440.5" y2="666" stroke="#111" stroke-width="1"/>
<line x1="517.3" y1="540" x2="517.3" y2="590" stroke="#111" stroke-width="1"/>
<line x1="436.8" y1="560" x2="471.2" y2="560" stroke="#111" stroke-width="1"/>
<path d="M446.5,560 L443.3,558.7 Q439.7,558.2 439.7,560 Q439.7,561.8 443.3,561.3 Z" fill="#111" stroke="none"/>
<path d="M463.7,560 L466.9,558.7 Q470.5,558.2 470.5,560 Q470.5,561.8 466.9,561.3 Z" fill="#111" stroke="none"/>
<text x="448.6" y="555.9" font-family='"Liberation Sans", sans-serif' font-size="11" font-weight="bold" fill="#111" text-anchor="start" stroke="#111" stroke-width="0.3" >72</text>
<line x1="483" y1="560" x2="517.3" y2="560" stroke="#111" stroke-width="1"/>
<path d="M493.7,560 L490.5,558.7 Q486.9,558.2 486.9,560 Q486.9,561.8 490.5,561.3 Z" fill="#111" stroke="none"/>
<path d="M509.8,560 L513.0,558.7 Q516.6,558.2 516.6,560 Q516.6,561.8 513.0,561.3 Z" fill="#111" stroke="none"/>
<text x="494.8" y="555.9" font-family='"Liberation Sans", sans-serif' font-size="11" font-weight="bold" fill="#111" text-anchor="start" stroke="#111" stroke-width="0.3" >72</text>
<line x1="446.5" y1="560" x2="446.5" y2="600" stroke="#111" stroke-width="1"/>
<line x1="463.7" y1="560" x2="463.7" y2="600" stroke="#111" stroke-width="1"/>
<line x1="493.7" y1="560" x2="493.7" y2="600" stroke="#111" stroke-width="1"/>
<line x1="509.8" y1="560" x2="509.8" y2="618" stroke="#111" stroke-width="1"/>
<rect x="446.5" y="573" width="70" height="4.6" fill="url(#h1)"/><rect x="446.5" y="595.3" width="70" height="4.4" fill="url(#h1)"/>
<rect x="480.8" y="570.3" width="17.2" height="2.7" fill="url(#h1)"/><rect x="480.8" y="599.7" width="17.2" height="2.8" fill="url(#h1)"/>
<polyline points="440,573.2 480.3,573.2 480.3,570.7 497.7,570.7 497.7,573.2 516.4,573.2" fill="none" stroke="#111" stroke-width="1.2"/>
<polyline points="440,599.6 480.3,599.6 480.3,602.2 497.7,602.2 497.7,599.6 516.4,599.6" fill="none" stroke="#111" stroke-width="1.2"/>
<line x1="440" y1="573" x2="440" y2="599.7" stroke="#111" stroke-width="1.3"/>
<line x1="443" y1="573" x2="443" y2="599.7" stroke="#111" stroke-width="0.9"/>
<line x1="446.5" y1="577.6" x2="446.5" y2="595.5" stroke="#111" stroke-width="1.2"/>
<line x1="440" y1="577.6" x2="505" y2="577.6" stroke="#111" stroke-width="1"/>
<line x1="440" y1="595.5" x2="505" y2="595.5" stroke="#111" stroke-width="1"/>
<rect x="502.6" y="577.6" width="13.799999999999955" height="17.899999999999977" rx="0" fill="none" stroke="#111" stroke-width="1"/>
<line x1="516.4" y1="573" x2="516.4" y2="599.7" stroke="#111" stroke-width="1.5"/>
<rect x="510" y="579.5" width="1.5" height="1.5" fill="#333"/><rect x="513" y="579.5" width="1.5" height="1.5" fill="#333"/>
<rect x="510" y="583" width="1.5" height="1.5" fill="#333"/><rect x="513" y="583" width="1.5" height="1.5" fill="#333"/>
<rect x="510" y="586.5" width="1.5" height="1.5" fill="#333"/><rect x="513" y="586.5" width="1.5" height="1.5" fill="#333"/>
<rect x="510" y="590" width="1.5" height="1.5" fill="#333"/><rect x="513" y="590" width="1.5" height="1.5" fill="#333"/>
<rect x="510" y="593.2" width="1.5" height="1.5" fill="#333"/><rect x="513" y="593.2" width="1.5" height="1.5" fill="#333"/>
<line x1="507.5" y1="578" x2="507.5" y2="595" stroke="#111" stroke-width="0.8"/>
<rect x="491.9" y="583.9" width="14.0" height="5.0" rx="0" fill="#fff" stroke="#111" stroke-width="1"/>
<line x1="493" y1="586.4" x2="505" y2="586.4" stroke="#555" stroke-width="0.6"/>
<line x1="436" y1="586.9" x2="520" y2="586.9" stroke="#222" stroke-width="0.8" stroke-dasharray="7 2 1.5 2"/>
<line x1="421.8" y1="577.2" x2="421.8" y2="595.5" stroke="#111" stroke-width="1"/>
<path d="M421.8,577.2 L420.5,580.4 Q420.0,584.0 421.8,584.0 Q423.6,584.0 423.1,580.4 Z" fill="#111" stroke="none"/>
<path d="M421.8,595.5 L420.5,592.3 Q420.0,588.7 421.8,588.7 Q423.6,588.7 423.1,592.3 Z" fill="#111" stroke="none"/>
<line x1="420" y1="577.2" x2="440" y2="577.2" stroke="#111" stroke-width="1"/>
<line x1="420" y1="595.5" x2="440" y2="595.5" stroke="#111" stroke-width="1"/>
<text transform="translate(416.8,601) rotate(-90)" x="0" y="0" font-family='"Liberation Sans", sans-serif' font-size="11" font-weight="bold" fill="#111" stroke="#111" stroke-width="0.3">Φ72<tspan font-size="6" dy="-5">+0.1</tspan></text>
<line x1="429.3" y1="618.4" x2="476.5" y2="618.4" stroke="#111" stroke-width="1"/>
<path d="M440,618.4 L436.8,617.1 Q433.2,616.6 433.2,618.4 Q433.2,620.2 436.8,619.7 Z" fill="#111" stroke="none"/>
<path d="M446.5,618.4 L449.7,617.1 Q453.3,616.6 453.3,618.4 Q453.3,620.2 449.7,619.7 Z" fill="#111" stroke="none"/>
<text x="462.6" y="613.9" font-family='"Liberation Sans", sans-serif' font-size="11" font-weight="bold" fill="#111" text-anchor="start" stroke="#111" stroke-width="0.3" >25</text>
<line x1="498.9" y1="618" x2="547.4" y2="618" stroke="#111" stroke-width="1"/>
<path d="M509.8,618 L506.6,616.7 Q503.0,616.2 503.0,618 Q503.0,619.8 506.6,619.3 Z" fill="#111" stroke="none"/>
<path d="M516.7,618 L519.9,616.7 Q523.5,616.2 523.5,618 Q523.5,619.8 519.9,619.3 Z" fill="#111" stroke="none"/>
<text x="530.5" y="614.9" font-family='"Liberation Sans", sans-serif' font-size="11" font-weight="bold" fill="#111" text-anchor="start" stroke="#111" stroke-width="0.3" >25</text>
<line x1="516.7" y1="600" x2="516.7" y2="618" stroke="#111" stroke-width="1"/>
<polygon points="532.5,546.2 579,546.2 570,568.6 523.6,568.6" fill="none" stroke="#111" stroke-width="1"/>
<text x="533.5" y="555.5" font-family='"Liberation Sans", sans-serif' font-size="8" font-weight="bold" fill="#111" text-anchor="start" textLength="39.5" lengthAdjust="spacingAndGlyphs" stroke="#111" stroke-width="0.3" >G B878 1-86</text>
<text x="528.6" y="564.4" font-family='"Liberation Sans", sans-serif' font-size="8" font-weight="bold" fill="#111" text-anchor="start" textLength="39.4" lengthAdjust="spacingAndGlyphs" stroke="#111" stroke-width="0.3" >M20x60-8.8</text>
<polyline points="523.6,556.7 513.7,573.6" fill="none" stroke="#111" stroke-width="1"/>
<rect x="511.7" y="622" width="61.30000000000001" height="22" rx="11" fill="none" stroke="#111" stroke-width="1"/>
<text x="515.7" y="632.2" font-family='"Liberation Sans", sans-serif' font-size="10" font-weight="normal" fill="#111" text-anchor="start" textLength="54" lengthAdjust="spacingAndGlyphs" >GB3478.1-83</text>
<text x="519" y="639.1" font-family='"Liberation Sans", sans-serif' font-size="5" font-weight="normal" fill="#111" text-anchor="start" >ｔ ｲ ｲ ﾄ ﾉﾀｿﾀｲ</text>
<polyline points="511.7,632 503.8,632 490,674" fill="none" stroke="#111" stroke-width="1"/>
<line x1="440.8" y1="651" x2="500.3" y2="651" stroke="#111" stroke-width="1"/>
<path d="M440.8,651 L444.0,649.7 Q447.6,649.2 447.6,651 Q447.6,652.8 444.0,652.3 Z" fill="#111" stroke="none"/>
<path d="M500.3,651 L497.1,649.7 Q493.5,649.2 493.5,651 Q493.5,652.8 497.1,652.3 Z" fill="#111" stroke="none"/>
<text x="461" y="646.4" font-family='"Liberation Sans", sans-serif' font-size="11" font-weight="bold" fill="#111" text-anchor="start" stroke="#111" stroke-width="0.3" >240</text>
<line x1="500.3" y1="651" x2="500.3" y2="666" stroke="#111" stroke-width="1"/>
<line x1="440.5" y1="667.5" x2="500" y2="667.5" stroke="#111" stroke-width="1.8"/>
<line x1="440.5" y1="670.3" x2="500" y2="670.3" stroke="#111" stroke-width="0.9"/>
<line x1="440.5" y1="685.5" x2="500" y2="685.5" stroke="#111" stroke-width="0.9"/>
<line x1="440.5" y1="687.7" x2="500" y2="687.7" stroke="#111" stroke-width="1.8"/>
<line x1="500" y1="667.5" x2="500" y2="687.7" stroke="#111" stroke-width="1.2"/>
<rect x="436.2" y="666.1" width="4.300000000000011" height="24.0" rx="0" fill="none" stroke="#111" stroke-width="1.2"/>
<line x1="438.3" y1="666.5" x2="438.3" y2="689.8" stroke="#111" stroke-width="0.8"/>
<rect x="435.5" y="665.5" width="5" height="3" fill="#111"/><rect x="435.5" y="687.8" width="5" height="3" fill="#111"/>
<path d="M436,668.2 Q430,668.2 428.5,671 Q426.5,674 427.5,676.5" fill="none" stroke="#111" stroke-width="1"/>
<ellipse cx="428.6" cy="682" rx="2.6" ry="3.6" fill="none" stroke="#111" stroke-width="1"/>
<line x1="426.5" y1="684.5" x2="431" y2="679" stroke="#111" stroke-width="0.9"/>
<line x1="423" y1="678.1" x2="503" y2="678.1" stroke="#222" stroke-width="0.8" stroke-dasharray="7 2 1.5 2"/>
<line x1="415.3" y1="666.1" x2="415.3" y2="690.1" stroke="#111" stroke-width="1"/>
<path d="M415.3,666.1 L414.0,669.3 Q413.5,672.9 415.3,672.9 Q417.1,672.9 416.6,669.3 Z" fill="#111" stroke="none"/>
<path d="M415.3,690.1 L414.0,686.9 Q413.5,683.3 415.3,683.3 Q417.1,683.3 416.6,686.9 Z" fill="#111" stroke="none"/>
<line x1="414" y1="666.1" x2="436" y2="666.1" stroke="#111" stroke-width="1"/>
<line x1="414" y1="690.1" x2="436" y2="690.1" stroke="#111" stroke-width="1"/>
<text transform="translate(411.3,693.6) rotate(-90)" x="0" y="0" font-family='"Liberation Sans", sans-serif' font-size="11" font-weight="bold" fill="#111" stroke="#111" stroke-width="0.3">Φ90<tspan font-size="8">min</tspan></text>
<polyline points="501,677.8 508,681.7 508,709.5 500.5,709.5" fill="none" stroke="#111" stroke-width="1"/>
<rect x="441.6" y="696.6" width="59.39999999999998" height="25.699999999999932" rx="12.8" fill="none" stroke="#111" stroke-width="1"/>
<text x="455.4" y="709.7" font-family='"Liberation Sans", sans-serif' font-size="10" font-weight="normal" fill="#111" text-anchor="start" textLength="42.6" lengthAdjust="spacingAndGlyphs" >GB145-85</text>
<text x="459.4" y="719.6" font-family='"Liberation Sans", sans-serif' font-size="10" font-weight="normal" fill="#111" text-anchor="start" textLength="24.8" lengthAdjust="spacingAndGlyphs" >CM20</text>
<circle cx="539.5" cy="678.5" r="7.5" fill="none" stroke="#111" stroke-width="1.6" stroke-dasharray="2.6 1.6"/>
<circle cx="539.5" cy="678.5" r="5" fill="none" stroke="#111" stroke-width="0.8" stroke-dasharray="1.5 1.5"/>
<line x1="529" y1="678.5" x2="550" y2="678.5" stroke="#222" stroke-width="0.8" stroke-dasharray="7 2 1.5 2"/>
<line x1="539.5" y1="668" x2="539.5" y2="689" stroke="#222" stroke-width="0.8" stroke-dasharray="7 2 1.5 2"/>
<line x1="537.6" y1="686.3" x2="537.6" y2="709.8" stroke="#111" stroke-width="1"/>
<line x1="540.5" y1="686.3" x2="540.5" y2="709.8" stroke="#111" stroke-width="1"/>
<line x1="527.8" y1="709.8" x2="593.3" y2="709.8" stroke="#111" stroke-width="1"/>
<path d="M537.6,709.8 L534.4,708.5 Q530.8,708.0 530.8,709.8 Q530.8,711.6 534.4,711.1 Z" fill="#111" stroke="none"/>
<path d="M540.5,709.8 L543.7,708.5 Q547.3,708.0 547.3,709.8 Q547.3,711.6 543.7,711.1 Z" fill="#111" stroke="none"/>
<text x="554.2" y="704.9" font-family='"Liberation Sans", sans-serif' font-size="11" font-weight="bold" fill="#111" text-anchor="start" stroke="#111" stroke-width="0.3" >D<tspan font-size="7">m</tspan>=Φ4</text>
<line x1="592.3" y1="584.7" x2="592.3" y2="697" stroke="#111" stroke-width="1"/>
<path d="M592.3,669.7 L591.0,666.5 Q590.5,662.9 592.3,662.9 Q594.1,662.9 593.6,666.5 Z" fill="#111" stroke="none"/>
<path d="M592.3,687.3 L591.0,690.5 Q590.5,694.1 592.3,694.1 Q594.1,694.1 593.6,690.5 Z" fill="#111" stroke="none"/>
<line x1="538.6" y1="669.7" x2="594" y2="669.7" stroke="#111" stroke-width="1"/>
<line x1="538.6" y1="687.3" x2="594" y2="687.3" stroke="#111" stroke-width="1"/>
<text transform="translate(588.4,654) rotate(-90)" x="0" y="0" font-family='"Liberation Sans", sans-serif' font-size="11" font-weight="bold" fill="#111" stroke="#111" stroke-width="0.3">Me=Φ74.15<tspan font-size="5" dy="-1">MAX</tspan></text>
</svg></body></html>
